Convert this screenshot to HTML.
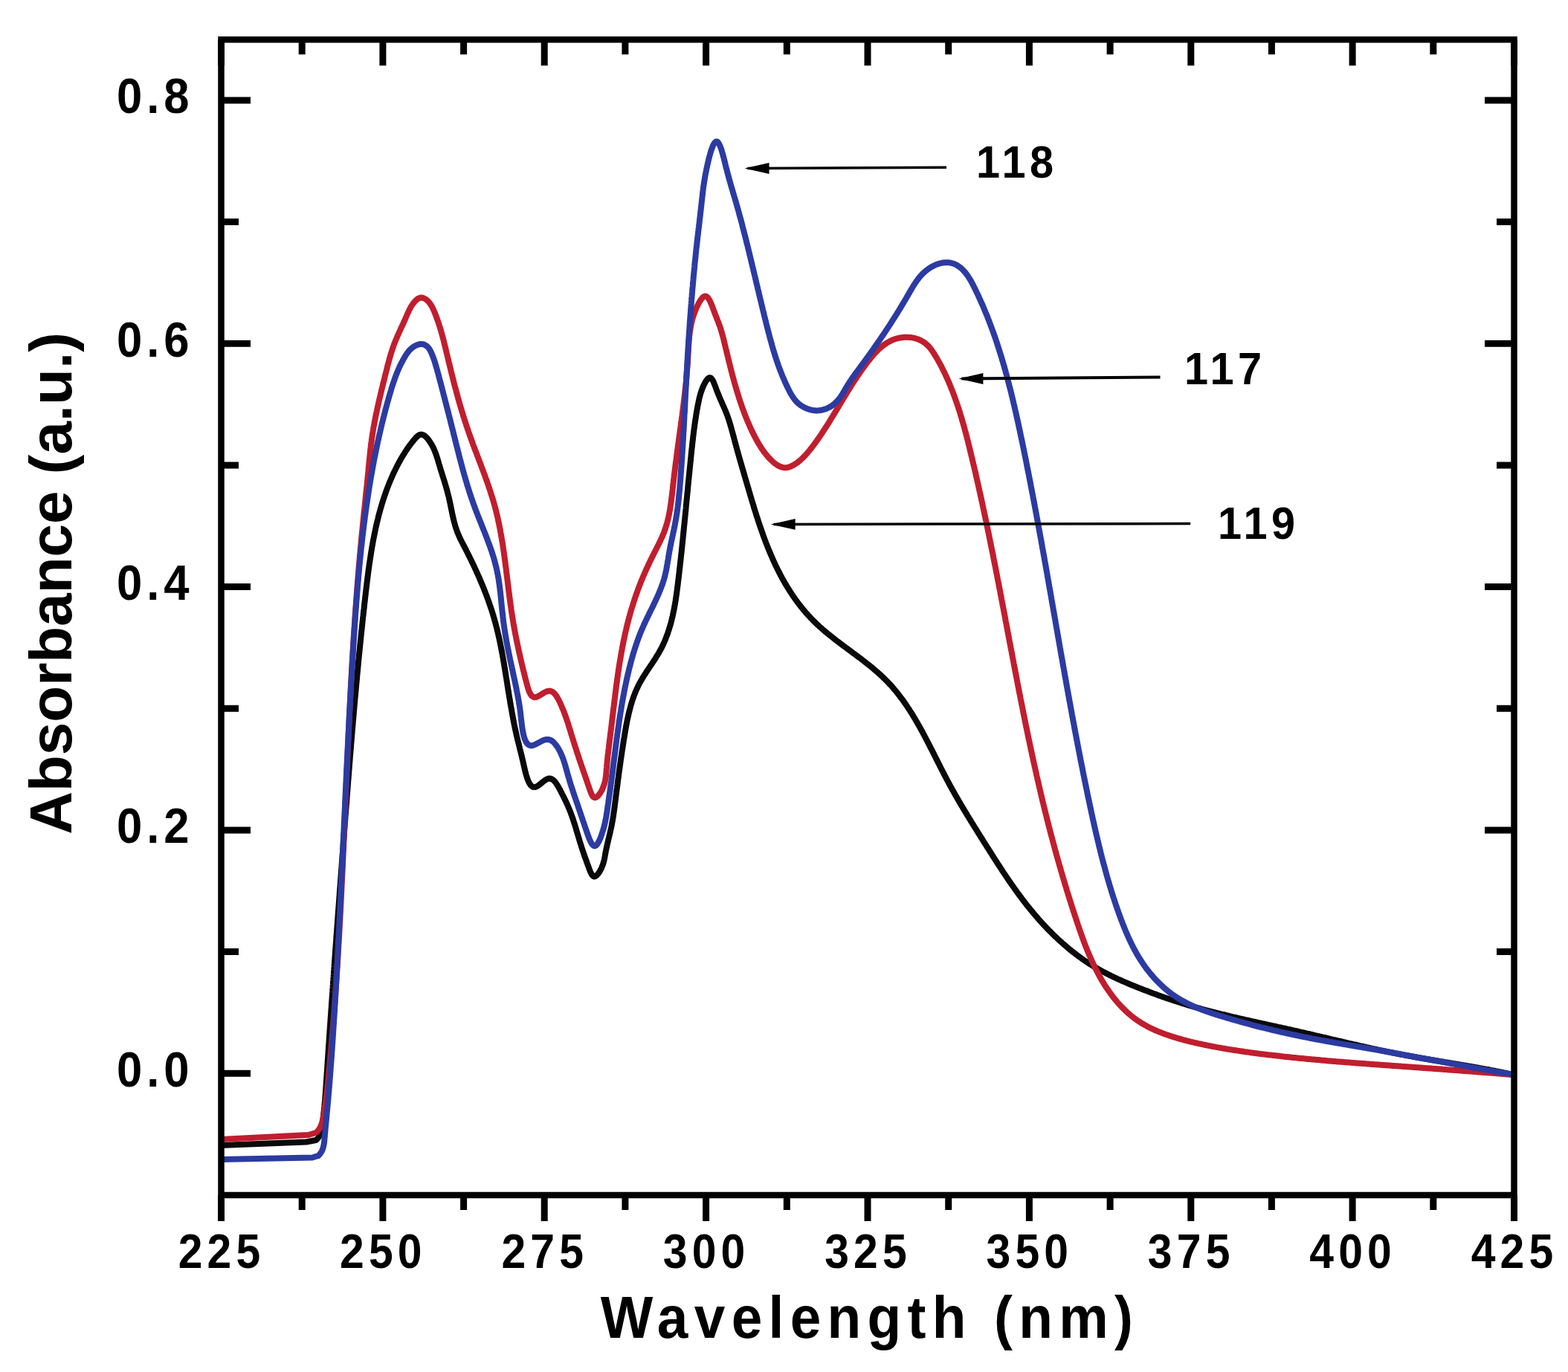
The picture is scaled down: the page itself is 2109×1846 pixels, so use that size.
<!DOCTYPE html>
<html><head><meta charset="utf-8"><title>Absorbance spectra</title>
<style>html,body{margin:0;padding:0;background:#fff;}body{width:2109px;height:1846px;overflow:hidden;}svg{display:block;}.t{font-family:"Liberation Sans",sans-serif;font-weight:bold;fill:#000;}</style></head><body>
<svg width="2109" height="1846" viewBox="0 0 2109 1846">
<rect width="2109" height="1846" fill="#fff"/>
<path d="M297.5 53.3V88.3 M297.5 1608.0V1643.0 M406.2 53.3V73.3 M406.2 1608.0V1628.0 M514.9 53.3V88.3 M514.9 1608.0V1643.0 M623.6 53.3V73.3 M623.6 1608.0V1628.0 M732.2 53.3V88.3 M732.2 1608.0V1643.0 M840.9 53.3V73.3 M840.9 1608.0V1628.0 M949.6 53.3V88.3 M949.6 1608.0V1643.0 M1058.3 53.3V73.3 M1058.3 1608.0V1628.0 M1167.0 53.3V88.3 M1167.0 1608.0V1643.0 M1275.7 53.3V73.3 M1275.7 1608.0V1628.0 M1384.4 53.3V88.3 M1384.4 1608.0V1643.0 M1493.1 53.3V73.3 M1493.1 1608.0V1628.0 M1601.8 53.3V88.3 M1601.8 1608.0V1643.0 M1710.4 53.3V73.3 M1710.4 1608.0V1628.0 M1819.1 53.3V88.3 M1819.1 1608.0V1643.0 M1927.8 53.3V73.3 M1927.8 1608.0V1628.0 M2036.5 53.3V88.3 M2036.5 1608.0V1643.0 M297.5 1444.3H337.0 M297.5 1280.6H321.0 M2036.5 1280.6H2013.0 M297.5 1116.9H337.0 M2036.5 1116.9H1997.0 M297.5 953.3H321.0 M2036.5 953.3H2013.0 M297.5 789.6H337.0 M2036.5 789.6H1997.0 M297.5 625.9H321.0 M2036.5 625.9H2013.0 M297.5 462.2H337.0 M2036.5 462.2H1997.0 M297.5 298.5H321.0 M2036.5 298.5H2013.0 M297.5 134.9H337.0 M2036.5 134.9H1997.0" stroke="#000" stroke-width="9.0" fill="none"/>
<g fill="none" stroke-linejoin="round" stroke-linecap="butt">
<path d="M297.5 1541.0L412.0 1536.5L425.0 1534.0L425.1 1534.0L426.6 1532.6L427.9 1531.1L429.0 1529.4L429.9 1527.7L430.7 1525.9L431.3 1524.1L431.8 1522.2L432.3 1520.2L432.6 1518.3L433.0 1516.3L433.3 1514.3L433.6 1512.3L433.8 1510.3L434.1 1508.3L434.4 1506.3L434.6 1504.3L434.9 1502.3L435.1 1500.3L435.3 1498.3L435.5 1496.3L435.8 1494.3L436.0 1492.3L436.2 1490.3L436.4 1488.3L436.5 1486.3L436.7 1484.3L436.9 1482.3L437.1 1480.3L437.2 1478.4L437.4 1476.4L437.5 1474.4L437.7 1472.4L437.9 1470.4L438.0 1468.4L438.1 1466.4L438.3 1464.4L438.4 1462.4L438.6 1460.4L438.7 1458.4L438.8 1456.4L439.0 1454.4L439.1 1452.4L439.2 1450.4L439.4 1448.4L439.5 1446.4L439.6 1444.5L439.8 1442.5L439.9 1440.5L440.0 1438.5L440.2 1436.5L440.3 1434.5L440.4 1432.5L440.6 1430.5L440.7 1428.5L440.8 1426.5L441.0 1424.5L441.1 1422.5L441.2 1420.5L441.4 1418.5L441.5 1416.5L441.6 1414.5L441.8 1412.5L441.9 1410.6L442.0 1408.6L442.2 1406.6L442.3 1404.6L442.5 1402.6L442.6 1400.6L442.7 1398.6L442.9 1396.6L443.0 1394.6L443.1 1392.6L443.3 1390.6L443.4 1388.6L443.5 1386.6L443.7 1384.6L443.8 1382.6L444.0 1380.6L444.1 1378.6L444.2 1376.6L444.4 1374.7L444.5 1372.7L444.6 1370.7L444.8 1368.7L444.9 1366.7L445.1 1364.7L445.2 1362.7L445.3 1360.7L445.5 1358.7L445.6 1356.7L445.8 1354.7L445.9 1352.7L446.0 1350.7L446.2 1348.7L446.3 1346.7L446.5 1344.7L446.6 1342.7L446.7 1340.7L446.9 1338.7L447.0 1336.8L447.2 1334.8L447.3 1332.8L447.4 1330.8L447.6 1328.8L447.7 1326.8L447.9 1324.8L448.0 1322.8L448.1 1320.8L448.3 1318.8L448.4 1316.8L448.6 1314.8L448.7 1312.8L448.9 1310.8L449.0 1308.8L449.1 1306.8L449.3 1304.8L449.4 1302.8L449.6 1300.8L449.7 1298.9L449.9 1296.9L450.0 1294.9L450.1 1292.9L450.3 1290.9L450.4 1288.9L450.6 1286.9L450.7 1284.9L450.9 1282.9L451.0 1280.9L451.1 1278.9L451.3 1276.9L451.4 1274.9L451.6 1272.9L451.7 1270.9L451.9 1268.9L452.0 1266.9L452.2 1264.9L452.3 1262.9L452.4 1261.0L452.6 1259.0L452.7 1257.0L452.9 1255.0L453.0 1253.0L453.2 1251.0L453.3 1249.0L453.5 1247.0L453.6 1245.0L453.8 1243.0L453.9 1241.0L454.0 1239.0L454.2 1237.0L454.3 1235.0L454.5 1233.0L454.6 1231.0L454.8 1229.0L454.9 1227.0L455.1 1225.0L455.2 1223.1L455.4 1221.1L455.5 1219.1L455.7 1217.1L455.8 1215.1L456.0 1213.1L456.1 1211.1L456.3 1209.1L456.4 1207.1L456.6 1205.1L456.7 1203.1L456.8 1201.1L457.0 1199.1L457.1 1197.1L457.3 1195.1L457.4 1193.1L457.6 1191.1L457.7 1189.1L457.9 1187.1L458.0 1185.2L458.2 1183.2L458.3 1181.2L458.5 1179.2L458.6 1177.2L458.8 1175.2L458.9 1173.2L459.1 1171.2L459.2 1169.2L459.4 1167.2L459.5 1165.2L459.7 1163.2L459.8 1161.2L460.0 1159.2L460.1 1157.2L460.3 1155.2L460.4 1153.2L460.6 1151.2L460.7 1149.2L460.9 1147.3L461.0 1145.3L461.2 1143.3L461.3 1141.3L461.5 1139.3L461.6 1137.3L461.8 1135.3L461.9 1133.3L462.1 1131.3L462.2 1129.3L462.4 1127.3L462.6 1125.3L462.7 1123.3L462.9 1121.3L463.0 1119.3L463.2 1117.3L463.3 1115.3L463.5 1113.3L463.6 1111.4L463.8 1109.4L463.9 1107.4L464.1 1105.4L464.2 1103.4L464.4 1101.4L464.5 1099.4L464.7 1097.4L464.8 1095.4L465.0 1093.4L465.1 1091.4L465.3 1089.4L465.5 1087.4L465.6 1085.4L465.8 1083.4L465.9 1081.4L466.1 1079.5L466.2 1077.5L466.4 1075.5L466.5 1073.5L466.7 1071.5L466.8 1069.5L467.0 1067.5L467.2 1065.5L467.3 1063.5L467.5 1061.5L467.6 1059.5L467.8 1057.5L467.9 1055.5L468.1 1053.5L468.2 1051.5L468.4 1049.5L468.6 1047.6L468.7 1045.6L468.9 1043.6L469.0 1041.6L469.2 1039.6L469.3 1037.6L469.5 1035.6L469.7 1033.6L469.8 1031.6L470.0 1029.6L470.1 1027.6L470.3 1025.6L470.5 1023.6L470.6 1021.6L470.8 1019.6L470.9 1017.7L471.1 1015.7L471.3 1013.7L471.4 1011.7L471.6 1009.7L471.8 1007.7L471.9 1005.7L472.1 1003.7L472.2 1001.7L472.4 999.7L472.6 997.7L472.7 995.7L472.9 993.7L473.1 991.7L473.2 989.8L473.4 987.8L473.6 985.8L473.7 983.8L473.9 981.8L474.1 979.8L474.2 977.8L474.4 975.8L474.6 973.8L474.7 971.8L474.9 969.8L475.1 967.8L475.3 965.8L475.4 963.9L475.6 961.9L475.8 959.9L475.9 957.9L476.1 955.9L476.3 953.9L476.5 951.9L476.6 949.9L476.8 947.9L477.0 945.9L477.2 943.9L477.3 941.9L477.5 939.9L477.7 938.0L477.9 936.0L478.1 934.0L478.2 932.0L478.4 930.0L478.6 928.0L478.8 926.0L479.0 924.0L479.1 922.0L479.3 920.0L479.5 918.0L479.7 916.1L479.9 914.1L480.1 912.1L480.2 910.1L480.4 908.1L480.6 906.1L480.8 904.1L481.0 902.1L481.2 900.1L481.4 898.1L481.6 896.1L481.8 894.2L481.9 892.2L482.1 890.2L482.3 888.2L482.5 886.2L482.7 884.2L482.9 882.2L483.1 880.2L483.3 878.2L483.5 876.2L483.7 874.2L483.9 872.3L484.1 870.3L484.3 868.3L484.5 866.3L484.7 864.3L484.9 862.3L485.1 860.3L485.3 858.3L485.5 856.3L485.7 854.4L485.9 852.4L486.1 850.4L486.3 848.4L486.6 846.4L486.8 844.4L487.0 842.4L487.2 840.4L487.4 838.4L487.6 836.4L487.8 834.5L488.0 832.5L488.2 830.5L488.5 828.5L488.7 826.5L488.9 824.5L489.1 822.5L489.3 820.5L489.6 818.5L489.8 816.6L490.0 814.6L490.2 812.6L490.4 810.6L490.7 808.6L490.9 806.6L491.1 804.6L491.3 802.6L491.6 800.7L491.8 798.7L492.0 796.7L492.3 794.7L492.5 792.7L492.7 790.7L493.0 788.7L493.2 786.7L493.4 784.8L493.7 782.8L493.9 780.8L494.2 778.8L494.4 776.8L494.7 774.8L494.9 772.8L495.2 770.9L495.4 768.9L495.7 766.9L496.0 764.9L496.3 762.9L496.5 761.0L496.8 759.0L497.1 757.0L497.4 755.0L497.7 753.0L498.0 751.1L498.3 749.1L498.6 747.1L498.9 745.1L499.2 743.2L499.5 741.2L499.9 739.2L500.2 737.2L500.5 735.3L500.9 733.3L501.2 731.3L501.6 729.4L501.9 727.4L502.3 725.5L502.7 723.5L503.1 721.5L503.5 719.6L503.9 717.6L504.3 715.7L504.7 713.7L505.1 711.7L505.5 709.8L506.0 707.8L506.4 705.9L506.8 703.9L507.3 702.0L507.8 700.1L508.3 698.1L508.7 696.2L509.2 694.2L509.7 692.3L510.2 690.4L510.8 688.4L511.3 686.5L511.8 684.6L512.4 682.7L513.0 680.7L513.5 678.8L514.1 676.9L514.7 675.0L515.3 673.1L515.9 671.2L516.5 669.3L517.2 667.4L517.8 665.5L518.5 663.6L519.1 661.7L519.8 659.8L520.5 657.9L521.2 656.1L521.9 654.2L522.7 652.3L523.4 650.5L524.2 648.6L524.9 646.8L525.7 645.0L526.5 643.1L527.3 641.3L528.1 639.5L528.9 637.7L529.8 635.8L530.6 634.0L531.5 632.3L532.4 630.5L533.3 628.7L534.2 626.9L535.1 625.1L536.0 623.4L537.0 621.6L538.0 619.9L538.9 618.2L539.9 616.4L540.9 614.7L542.0 613.0L543.0 611.3L544.1 609.6L545.1 607.9L546.2 606.3L547.3 604.6L548.5 602.9L549.6 601.3L550.8 599.6L552.1 598.0L553.3 596.3L554.6 594.7L555.9 593.0L557.3 591.4L558.7 589.7L560.2 588.2L561.6 586.8L563.1 585.7L564.7 584.9L566.2 584.6L567.8 584.7L569.4 585.2L570.9 586.1L572.4 587.3L573.9 588.8L575.4 590.5L576.7 592.2L578.0 594.1L579.2 596.0L580.4 597.8L581.4 599.7L582.4 601.5L583.3 603.4L584.1 605.3L584.9 607.2L585.6 609.0L586.3 610.9L587.0 612.8L587.6 614.7L588.2 616.5L588.8 618.4L589.3 620.3L589.9 622.2L590.4 624.1L591.0 626.0L591.6 627.9L592.1 629.8L592.7 631.7L593.3 633.6L593.9 635.5L594.5 637.3L595.1 639.3L595.7 641.2L596.3 643.1L596.9 645.0L597.5 646.9L598.1 648.8L598.6 650.7L599.2 652.6L599.8 654.6L600.3 656.5L600.9 658.4L601.4 660.4L601.9 662.3L602.4 664.2L602.9 666.2L603.4 668.1L603.9 670.1L604.3 672.1L604.7 674.0L605.2 676.0L605.6 678.0L606.0 679.9L606.4 681.9L606.8 683.9L607.2 685.8L607.6 687.8L608.0 689.8L608.4 691.7L608.8 693.7L609.3 695.7L609.7 697.6L610.2 699.5L610.6 701.5L611.2 703.4L611.7 705.3L612.2 707.2L612.8 709.1L613.4 711.0L614.1 712.9L614.7 714.8L615.4 716.6L616.2 718.4L617.0 720.3L617.8 722.1L618.6 723.9L619.5 725.7L620.4 727.5L621.3 729.3L622.2 731.0L623.1 732.8L624.1 734.6L625.0 736.4L625.9 738.2L626.8 739.9L627.7 741.7L628.6 743.5L629.5 745.3L630.4 747.1L631.3 748.9L632.2 750.7L633.1 752.5L634.0 754.3L634.8 756.1L635.7 757.9L636.6 759.7L637.4 761.5L638.3 763.3L639.1 765.2L640.0 767.0L640.8 768.8L641.6 770.6L642.4 772.4L643.2 774.3L644.1 776.1L644.9 777.9L645.6 779.8L646.4 781.6L647.2 783.5L648.0 785.3L648.8 787.1L649.5 789.0L650.3 790.8L651.0 792.7L651.7 794.6L652.5 796.4L653.2 798.3L653.9 800.1L654.6 802.0L655.3 803.9L656.0 805.8L656.7 807.6L657.3 809.5L658.0 811.4L658.6 813.3L659.3 815.2L659.9 817.1L660.6 819.0L661.2 820.8L661.8 822.7L662.4 824.7L663.0 826.6L663.5 828.5L664.1 830.4L664.7 832.3L665.2 834.2L665.8 836.1L666.3 838.1L666.8 840.0L667.3 841.9L667.8 843.9L668.3 845.8L668.8 847.7L669.3 849.7L669.7 851.6L670.2 853.6L670.6 855.5L671.1 857.5L671.5 859.4L671.9 861.4L672.3 863.3L672.7 865.3L673.1 867.3L673.5 869.2L673.9 871.2L674.3 873.2L674.7 875.1L675.1 877.1L675.4 879.1L675.8 881.0L676.1 883.0L676.5 885.0L676.8 887.0L677.2 888.9L677.5 890.9L677.8 892.9L678.2 894.9L678.5 896.8L678.8 898.8L679.2 900.8L679.5 902.8L679.8 904.8L680.1 906.7L680.4 908.7L680.7 910.7L681.1 912.7L681.4 914.6L681.7 916.6L682.0 918.6L682.3 920.6L682.6 922.5L682.9 924.5L683.2 926.5L683.5 928.4L683.9 930.4L684.2 932.4L684.5 934.3L684.8 936.3L685.1 938.3L685.5 940.2L685.8 942.2L686.1 944.2L686.4 946.1L686.8 948.1L687.1 950.1L687.5 952.0L687.8 954.0L688.2 956.0L688.5 958.0L688.9 960.0L689.2 962.0L689.6 964.0L690.0 966.0L690.4 968.0L690.7 970.0L691.1 972.0L691.5 974.0L691.9 976.0L692.3 977.9L692.7 979.9L693.1 981.8L693.6 983.7L694.0 985.6L694.4 987.5L694.8 989.4L695.2 991.2L695.7 993.0L696.1 994.8L696.5 996.6L697.0 998.3L697.4 1000.1L697.9 1001.9L698.3 1003.7L698.8 1005.5L699.2 1007.4L699.7 1009.3L700.2 1011.2L700.7 1013.2L701.2 1015.2L701.7 1017.3L702.2 1019.5L702.7 1021.8L703.3 1024.1L703.8 1026.5L704.4 1029.0L705.0 1031.6L705.6 1034.2L706.2 1036.8L706.8 1039.4L707.5 1041.9L708.3 1044.4L709.0 1046.8L709.8 1049.0L710.7 1051.1L711.6 1053.0L712.6 1054.7L713.6 1056.2L714.7 1057.4L715.9 1058.3L717.1 1058.9L718.4 1059.1L719.8 1059.0L721.3 1058.5L722.9 1057.7L724.5 1056.6L726.2 1055.3L727.9 1053.9L729.7 1052.4L731.4 1051.0L733.2 1049.8L734.9 1048.7L736.7 1047.9L738.3 1047.5L739.9 1047.5L741.5 1047.9L743.0 1048.7L744.5 1049.8L745.9 1051.2L747.2 1052.8L748.5 1054.7L749.8 1056.6L751.0 1058.7L752.2 1060.8L753.3 1062.9L754.4 1065.0L755.4 1067.0L756.4 1069.0L757.4 1070.9L758.4 1072.8L759.3 1074.6L760.1 1076.4L761.0 1078.2L761.8 1079.9L762.6 1081.7L763.4 1083.4L764.2 1085.2L764.9 1086.9L765.6 1088.6L766.3 1090.4L767.0 1092.1L767.7 1093.9L768.4 1095.8L769.1 1097.6L769.7 1099.5L770.4 1101.3L771.0 1103.2L771.6 1105.1L772.2 1107.1L772.9 1109.0L773.5 1110.9L774.1 1112.9L774.7 1114.8L775.2 1116.8L775.8 1118.7L776.4 1120.6L777.0 1122.6L777.6 1124.5L778.1 1126.4L778.7 1128.3L779.3 1130.2L779.8 1132.1L780.4 1133.9L781.0 1135.8L781.6 1137.6L782.1 1139.4L782.7 1141.2L783.3 1143.0L783.9 1144.8L784.5 1146.6L785.1 1148.5L785.8 1150.3L786.4 1152.2L787.1 1154.0L787.8 1156.0L788.5 1157.9L789.2 1159.9L789.9 1161.9L790.7 1164.0L791.5 1166.2L792.3 1168.4L793.1 1170.6L794.0 1172.8L795.0 1174.8L795.9 1176.6L797.0 1178.0L798.1 1179.0L799.3 1179.4L800.6 1179.1L801.9 1178.3L803.3 1177.1L804.6 1175.5L805.9 1173.7L807.1 1171.7L808.2 1169.6L809.2 1167.6L810.0 1165.6L810.8 1163.6L811.4 1161.6L812.0 1159.6L812.5 1157.6L812.9 1155.7L813.3 1153.7L813.7 1151.8L814.0 1149.9L814.4 1147.9L814.7 1146.0L815.1 1144.1L815.5 1142.1L815.9 1140.2L816.3 1138.3L816.8 1136.3L817.2 1134.4L817.7 1132.5L818.1 1130.5L818.6 1128.6L819.1 1126.6L819.5 1124.7L820.0 1122.7L820.5 1120.8L820.9 1118.8L821.3 1116.9L821.8 1114.9L822.2 1113.0L822.6 1111.0L823.0 1109.0L823.3 1107.1L823.7 1105.1L824.0 1103.1L824.4 1101.2L824.7 1099.2L825.0 1097.2L825.3 1095.2L825.6 1093.2L825.9 1091.2L826.1 1089.3L826.4 1087.3L826.7 1085.3L826.9 1083.3L827.2 1081.3L827.4 1079.3L827.7 1077.3L827.9 1075.3L828.2 1073.4L828.4 1071.4L828.7 1069.4L828.9 1067.4L829.2 1065.4L829.4 1063.4L829.7 1061.5L830.0 1059.5L830.2 1057.5L830.5 1055.5L830.7 1053.5L831.0 1051.6L831.2 1049.6L831.5 1047.6L831.8 1045.6L832.0 1043.6L832.3 1041.7L832.5 1039.7L832.8 1037.7L833.1 1035.7L833.4 1033.8L833.6 1031.8L833.9 1029.8L834.2 1027.8L834.5 1025.8L834.7 1023.9L835.0 1021.9L835.3 1019.9L835.6 1017.9L835.9 1016.0L836.2 1014.0L836.5 1012.0L836.8 1010.0L837.1 1008.1L837.4 1006.1L837.7 1004.1L838.0 1002.1L838.3 1000.2L838.6 998.2L838.9 996.2L839.2 994.2L839.6 992.2L839.9 990.3L840.2 988.3L840.6 986.3L840.9 984.3L841.2 982.3L841.6 980.4L841.9 978.4L842.3 976.4L842.7 974.4L843.0 972.4L843.4 970.5L843.8 968.5L844.2 966.5L844.7 964.6L845.1 962.6L845.5 960.7L846.0 958.7L846.5 956.8L847.0 954.8L847.5 952.9L848.0 951.0L848.5 949.1L849.1 947.1L849.7 945.2L850.2 943.3L850.9 941.4L851.5 939.6L852.2 937.7L852.8 935.8L853.6 934.0L854.3 932.1L855.0 930.3L855.8 928.5L856.6 926.7L857.5 924.9L858.3 923.1L859.2 921.3L860.1 919.5L861.1 917.8L862.1 916.0L863.1 914.3L864.1 912.6L865.1 910.9L866.2 909.2L867.3 907.5L868.4 905.8L869.4 904.1L870.6 902.4L871.7 900.7L872.8 899.1L873.9 897.4L875.0 895.7L876.2 894.0L877.3 892.4L878.4 890.7L879.5 889.0L880.6 887.3L881.7 885.6L882.7 883.9L883.8 882.2L884.8 880.5L885.9 878.8L886.8 877.1L887.8 875.3L888.8 873.6L889.7 871.8L890.6 870.1L891.4 868.3L892.3 866.5L893.1 864.7L893.9 862.9L894.7 861.0L895.4 859.2L896.1 857.4L896.8 855.5L897.5 853.7L898.2 851.8L898.8 849.9L899.4 848.1L900.0 846.2L900.6 844.3L901.2 842.4L901.7 840.5L902.3 838.6L902.8 836.6L903.3 834.7L903.7 832.8L904.2 830.8L904.7 828.9L905.1 826.9L905.5 825.0L905.9 823.0L906.3 821.1L906.7 819.1L907.1 817.1L907.4 815.1L907.8 813.2L908.1 811.2L908.5 809.2L908.8 807.2L909.1 805.2L909.4 803.2L909.7 801.2L910.0 799.2L910.2 797.2L910.5 795.2L910.8 793.2L911.0 791.2L911.3 789.2L911.6 787.2L911.8 785.2L912.0 783.2L912.3 781.2L912.5 779.2L912.8 777.2L913.0 775.2L913.2 773.2L913.5 771.2L913.7 769.2L913.9 767.2L914.1 765.2L914.4 763.2L914.6 761.2L914.8 759.2L915.0 757.2L915.3 755.2L915.5 753.2L915.7 751.2L915.9 749.3L916.1 747.3L916.3 745.3L916.6 743.3L916.8 741.3L917.0 739.3L917.2 737.3L917.4 735.3L917.6 733.3L917.8 731.4L918.0 729.4L918.2 727.4L918.4 725.4L918.6 723.4L918.8 721.4L919.0 719.4L919.2 717.5L919.4 715.5L919.6 713.5L919.8 711.5L920.0 709.5L920.2 707.5L920.4 705.6L920.6 703.6L920.8 701.6L921.0 699.6L921.2 697.6L921.4 695.6L921.6 693.7L921.8 691.7L922.0 689.7L922.2 687.7L922.4 685.7L922.6 683.8L922.7 681.8L922.9 679.8L923.1 677.8L923.3 675.8L923.5 673.8L923.7 671.9L923.9 669.9L924.1 667.9L924.3 665.9L924.5 663.9L924.7 661.9L924.9 660.0L925.1 658.0L925.2 656.0L925.4 654.0L925.6 652.0L925.8 650.0L926.0 648.1L926.2 646.1L926.4 644.1L926.6 642.1L926.8 640.1L927.0 638.1L927.2 636.1L927.4 634.1L927.6 632.1L927.8 630.2L928.0 628.2L928.2 626.2L928.4 624.2L928.6 622.2L928.8 620.2L929.0 618.2L929.2 616.2L929.4 614.2L929.6 612.2L929.8 610.2L930.0 608.2L930.2 606.2L930.4 604.2L930.7 602.2L930.9 600.2L931.1 598.2L931.3 596.2L931.5 594.2L931.8 592.2L932.0 590.2L932.2 588.2L932.5 586.2L932.7 584.3L932.9 582.3L933.2 580.3L933.4 578.3L933.7 576.3L934.0 574.3L934.2 572.3L934.5 570.4L934.8 568.4L935.1 566.4L935.4 564.4L935.7 562.5L936.0 560.5L936.3 558.6L936.6 556.6L937.0 554.6L937.3 552.7L937.6 550.8L938.0 548.8L938.3 546.9L938.7 544.9L939.1 543.0L939.5 541.1L939.9 539.2L940.3 537.3L940.7 535.3L941.2 533.4L941.7 531.5L942.3 529.5L942.9 527.6L943.6 525.6L944.3 523.6L945.1 521.5L946.0 519.5L947.0 517.4L948.1 515.3L949.2 513.3L950.4 511.5L951.5 510.1L952.7 508.9L953.9 508.2L955.0 508.1L956.0 508.5L957.0 509.4L958.0 510.7L958.9 512.3L959.9 514.3L960.7 516.4L961.6 518.6L962.5 520.9L963.3 523.2L964.1 525.5L965.0 527.6L965.8 529.7L966.7 531.8L967.5 533.8L968.3 535.7L969.1 537.6L970.0 539.5L970.8 541.3L971.5 543.1L972.3 544.9L973.1 546.6L973.9 548.4L974.6 550.1L975.4 551.9L976.1 553.6L976.8 555.4L977.5 557.2L978.2 558.9L978.8 560.8L979.5 562.6L980.1 564.4L980.7 566.3L981.3 568.2L981.9 570.1L982.4 572.0L983.0 574.0L983.6 575.9L984.1 577.9L984.6 579.8L985.2 581.8L985.7 583.8L986.2 585.7L986.8 587.7L987.3 589.7L987.8 591.7L988.3 593.6L988.8 595.6L989.4 597.5L989.9 599.5L990.4 601.4L991.0 603.4L991.5 605.3L992.0 607.3L992.6 609.2L993.1 611.1L993.7 613.0L994.2 614.9L994.7 616.9L995.3 618.8L995.8 620.7L996.4 622.6L996.9 624.5L997.5 626.4L998.0 628.3L998.6 630.2L999.2 632.1L999.7 634.0L1000.3 635.9L1000.8 637.8L1001.4 639.7L1001.9 641.6L1002.5 643.5L1003.0 645.4L1003.6 647.3L1004.2 649.2L1004.7 651.1L1005.3 653.0L1005.8 654.9L1006.4 656.8L1007.0 658.7L1007.5 660.7L1008.1 662.6L1008.7 664.5L1009.2 666.4L1009.8 668.3L1010.4 670.2L1010.9 672.2L1011.5 674.1L1012.1 676.0L1012.7 677.9L1013.3 679.8L1013.8 681.8L1014.4 683.7L1015.0 685.6L1015.6 687.5L1016.2 689.4L1016.8 691.3L1017.4 693.3L1018.0 695.2L1018.7 697.1L1019.3 699.0L1019.9 700.9L1020.5 702.8L1021.2 704.7L1021.8 706.6L1022.4 708.5L1023.1 710.4L1023.8 712.3L1024.4 714.2L1025.1 716.1L1025.8 718.0L1026.4 719.9L1027.1 721.8L1027.8 723.7L1028.5 725.6L1029.2 727.4L1029.9 729.3L1030.6 731.2L1031.4 733.1L1032.1 734.9L1032.8 736.8L1033.6 738.7L1034.4 740.5L1035.1 742.4L1035.9 744.2L1036.7 746.1L1037.5 747.9L1038.3 749.7L1039.1 751.6L1039.9 753.4L1040.7 755.2L1041.6 757.0L1042.4 758.9L1043.2 760.7L1044.1 762.5L1045.0 764.3L1045.9 766.1L1046.8 767.8L1047.7 769.6L1048.6 771.4L1049.5 773.2L1050.4 774.9L1051.4 776.7L1052.3 778.5L1053.3 780.2L1054.3 781.9L1055.3 783.7L1056.3 785.4L1057.3 787.1L1058.3 788.8L1059.3 790.5L1060.4 792.2L1061.5 793.9L1062.5 795.6L1063.6 797.2L1064.7 798.9L1065.8 800.6L1066.9 802.2L1068.0 803.8L1069.2 805.5L1070.3 807.1L1071.5 808.7L1072.7 810.3L1073.9 811.9L1075.1 813.5L1076.3 815.0L1077.5 816.6L1078.8 818.1L1080.0 819.7L1081.3 821.2L1082.6 822.7L1083.8 824.2L1085.2 825.7L1086.5 827.2L1087.8 828.6L1089.2 830.1L1090.5 831.6L1091.9 833.0L1093.3 834.4L1094.7 835.8L1096.1 837.2L1097.5 838.6L1099.0 840.0L1100.4 841.3L1101.9 842.7L1103.4 844.0L1104.9 845.3L1106.4 846.7L1107.9 848.0L1109.4 849.3L1111.0 850.6L1112.5 851.9L1114.1 853.1L1115.6 854.4L1117.2 855.7L1118.8 856.9L1120.4 858.2L1121.9 859.4L1123.5 860.7L1125.1 861.9L1126.7 863.1L1128.4 864.3L1130.0 865.6L1131.6 866.8L1133.2 868.0L1134.8 869.2L1136.5 870.4L1138.1 871.6L1139.7 872.8L1141.3 874.0L1143.0 875.2L1144.6 876.5L1146.2 877.7L1147.8 878.9L1149.5 880.1L1151.1 881.3L1152.7 882.5L1154.3 883.7L1155.9 884.9L1157.6 886.1L1159.2 887.4L1160.8 888.6L1162.4 889.8L1164.0 891.1L1165.5 892.3L1167.1 893.6L1168.7 894.8L1170.2 896.1L1171.8 897.3L1173.3 898.6L1174.9 899.9L1176.4 901.2L1177.9 902.5L1179.4 903.8L1180.9 905.1L1182.4 906.4L1183.9 907.7L1185.3 909.1L1186.8 910.4L1188.2 911.8L1189.6 913.2L1191.0 914.6L1192.4 916.0L1193.8 917.4L1195.2 918.8L1196.5 920.3L1197.9 921.7L1199.2 923.2L1200.5 924.7L1201.8 926.2L1203.0 927.7L1204.3 929.2L1205.6 930.7L1206.8 932.2L1208.0 933.8L1209.2 935.3L1210.4 936.9L1211.6 938.5L1212.8 940.0L1214.0 941.6L1215.1 943.2L1216.3 944.8L1217.4 946.5L1218.5 948.1L1219.6 949.7L1220.7 951.4L1221.8 953.0L1222.9 954.7L1224.0 956.4L1225.1 958.0L1226.1 959.7L1227.2 961.4L1228.2 963.1L1229.2 964.8L1230.3 966.5L1231.3 968.3L1232.3 970.0L1233.3 971.7L1234.3 973.4L1235.3 975.2L1236.3 976.9L1237.3 978.7L1238.2 980.4L1239.2 982.2L1240.2 984.0L1241.1 985.7L1242.1 987.5L1243.0 989.3L1244.0 991.1L1244.9 992.8L1245.8 994.6L1246.8 996.4L1247.7 998.2L1248.6 1000.0L1249.6 1001.8L1250.5 1003.6L1251.4 1005.4L1252.3 1007.2L1253.2 1009.0L1254.2 1010.8L1255.1 1012.6L1256.0 1014.4L1256.9 1016.2L1257.8 1018.0L1258.7 1019.8L1259.6 1021.6L1260.5 1023.4L1261.4 1025.2L1262.4 1027.0L1263.3 1028.8L1264.2 1030.7L1265.1 1032.5L1266.0 1034.3L1266.9 1036.1L1267.9 1037.8L1268.8 1039.6L1269.7 1041.4L1270.6 1043.2L1271.6 1045.0L1272.5 1046.8L1273.4 1048.6L1274.4 1050.4L1275.3 1052.1L1276.3 1053.9L1277.2 1055.7L1278.2 1057.4L1279.2 1059.2L1280.1 1060.9L1281.1 1062.7L1282.1 1064.4L1283.1 1066.2L1284.0 1067.9L1285.0 1069.7L1286.0 1071.4L1287.0 1073.1L1288.0 1074.9L1289.0 1076.6L1290.0 1078.3L1291.0 1080.0L1292.0 1081.8L1293.0 1083.5L1294.1 1085.2L1295.1 1086.9L1296.1 1088.6L1297.1 1090.3L1298.1 1092.0L1299.2 1093.7L1300.2 1095.4L1301.2 1097.1L1302.3 1098.8L1303.3 1100.5L1304.3 1102.2L1305.4 1103.9L1306.4 1105.6L1307.5 1107.3L1308.5 1109.0L1309.6 1110.7L1310.6 1112.4L1311.7 1114.0L1312.7 1115.7L1313.8 1117.4L1314.8 1119.1L1315.9 1120.8L1316.9 1122.5L1318.0 1124.2L1319.0 1125.8L1320.1 1127.5L1321.2 1129.2L1322.2 1130.9L1323.3 1132.6L1324.3 1134.3L1325.4 1135.9L1326.5 1137.6L1327.5 1139.3L1328.6 1141.0L1329.7 1142.7L1330.7 1144.3L1331.8 1146.0L1332.8 1147.7L1333.9 1149.4L1335.0 1151.1L1336.0 1152.8L1337.1 1154.4L1338.2 1156.1L1339.3 1157.8L1340.3 1159.5L1341.4 1161.1L1342.5 1162.8L1343.6 1164.5L1344.7 1166.2L1345.8 1167.8L1346.9 1169.5L1347.9 1171.2L1349.0 1172.8L1350.1 1174.5L1351.3 1176.2L1352.4 1177.8L1353.5 1179.5L1354.6 1181.1L1355.7 1182.8L1356.8 1184.4L1358.0 1186.1L1359.1 1187.7L1360.2 1189.4L1361.4 1191.0L1362.5 1192.6L1363.7 1194.3L1364.8 1195.9L1366.0 1197.5L1367.2 1199.2L1368.3 1200.8L1369.5 1202.4L1370.7 1204.0L1371.9 1205.6L1373.1 1207.2L1374.3 1208.8L1375.5 1210.4L1376.7 1212.0L1377.9 1213.6L1379.2 1215.2L1380.4 1216.8L1381.6 1218.4L1382.9 1219.9L1384.2 1221.5L1385.4 1223.1L1386.7 1224.6L1388.0 1226.2L1389.3 1227.7L1390.6 1229.3L1391.9 1230.8L1393.2 1232.3L1394.5 1233.9L1395.8 1235.4L1397.1 1236.9L1398.5 1238.4L1399.8 1239.9L1401.2 1241.4L1402.5 1242.9L1403.9 1244.4L1405.3 1245.8L1406.6 1247.3L1408.0 1248.8L1409.4 1250.2L1410.8 1251.7L1412.3 1253.1L1413.7 1254.5L1415.1 1255.9L1416.5 1257.4L1418.0 1258.8L1419.4 1260.2L1420.9 1261.5L1422.3 1262.9L1423.8 1264.3L1425.3 1265.7L1426.8 1267.0L1428.3 1268.3L1429.8 1269.7L1431.3 1271.0L1432.8 1272.3L1434.3 1273.6L1435.8 1274.9L1437.4 1276.2L1438.9 1277.5L1440.5 1278.7L1442.0 1280.0L1443.6 1281.2L1445.2 1282.4L1446.8 1283.7L1448.4 1284.9L1450.0 1286.1L1451.6 1287.2L1453.2 1288.4L1454.8 1289.6L1456.4 1290.7L1458.1 1291.9L1459.7 1293.0L1461.4 1294.1L1463.0 1295.2L1464.7 1296.3L1466.4 1297.4L1468.1 1298.4L1469.7 1299.5L1471.4 1300.5L1473.1 1301.5L1474.9 1302.5L1476.6 1303.5L1478.3 1304.5L1480.0 1305.5L1481.8 1306.4L1483.5 1307.4L1485.3 1308.3L1487.0 1309.2L1488.8 1310.1L1490.6 1311.0L1492.4 1311.9L1494.2 1312.8L1495.9 1313.7L1497.7 1314.5L1499.5 1315.4L1501.3 1316.2L1503.2 1317.1L1505.0 1317.9L1506.8 1318.7L1508.6 1319.5L1510.4 1320.3L1512.3 1321.1L1514.1 1321.9L1515.9 1322.7L1517.8 1323.5L1519.6 1324.2L1521.5 1325.0L1523.3 1325.8L1525.2 1326.5L1527.0 1327.3L1528.9 1328.0L1530.7 1328.8L1532.6 1329.5L1534.5 1330.2L1536.3 1331.0L1538.2 1331.7L1540.1 1332.4L1541.9 1333.1L1543.8 1333.8L1545.7 1334.6L1547.5 1335.3L1549.4 1336.0L1551.3 1336.7L1553.2 1337.3L1555.1 1338.0L1556.9 1338.7L1558.8 1339.4L1560.7 1340.1L1562.6 1340.7L1564.5 1341.4L1566.4 1342.1L1568.3 1342.7L1570.2 1343.4L1572.1 1344.0L1574.0 1344.7L1575.9 1345.3L1577.8 1345.9L1579.7 1346.6L1581.6 1347.2L1583.5 1347.8L1585.4 1348.4L1587.3 1349.0L1589.2 1349.6L1591.1 1350.2L1593.0 1350.8L1594.9 1351.4L1596.9 1352.0L1598.8 1352.6L1600.7 1353.1L1602.6 1353.7L1604.5 1354.3L1606.5 1354.8L1608.4 1355.4L1610.3 1355.9L1612.2 1356.5L1614.2 1357.0L1616.1 1357.5L1618.0 1358.1L1619.9 1358.6L1621.9 1359.1L1623.8 1359.6L1625.7 1360.1L1627.7 1360.6L1629.6 1361.1L1631.5 1361.6L1633.5 1362.1L1635.4 1362.6L1637.3 1363.1L1639.3 1363.6L1641.2 1364.1L1643.2 1364.6L1645.1 1365.0L1647.1 1365.5L1649.0 1366.0L1650.9 1366.4L1652.9 1366.9L1654.8 1367.4L1656.8 1367.8L1658.7 1368.3L1660.7 1368.7L1662.6 1369.2L1664.6 1369.6L1666.5 1370.1L1668.5 1370.5L1670.4 1371.0L1672.4 1371.4L1674.3 1371.9L1676.3 1372.3L1678.2 1372.7L1680.2 1373.2L1682.1 1373.6L1684.1 1374.1L1686.0 1374.5L1688.0 1374.9L1689.9 1375.3L1691.9 1375.8L1693.8 1376.2L1695.8 1376.6L1697.7 1377.1L1699.7 1377.5L1701.6 1377.9L1703.6 1378.3L1705.5 1378.8L1707.5 1379.2L1709.4 1379.6L1711.4 1380.1L1713.3 1380.5L1715.3 1380.9L1717.2 1381.3L1719.2 1381.8L1721.2 1382.2L1723.1 1382.6L1725.1 1383.1L1727.0 1383.5L1729.0 1383.9L1730.9 1384.4L1732.9 1384.8L1734.8 1385.2L1736.8 1385.7L1738.7 1386.1L1740.7 1386.6L1742.6 1387.0L1744.6 1387.4L1746.5 1387.9L1748.5 1388.3L1750.4 1388.8L1752.4 1389.2L1754.3 1389.7L1756.2 1390.1L1758.2 1390.6L1760.1 1391.0L1762.1 1391.5L1764.0 1391.9L1766.0 1392.4L1767.9 1392.9L1769.9 1393.3L1771.8 1393.8L1773.8 1394.2L1775.7 1394.7L1777.7 1395.1L1779.6 1395.6L1781.5 1396.0L1783.5 1396.5L1785.4 1397.0L1787.4 1397.4L1789.3 1397.9L1791.3 1398.3L1793.2 1398.8L1795.2 1399.2L1797.1 1399.7L1799.1 1400.1L1801.0 1400.6L1802.9 1401.0L1804.9 1401.5L1806.8 1402.0L1808.8 1402.4L1810.7 1402.9L1812.7 1403.3L1814.6 1403.8L1816.6 1404.2L1818.5 1404.6L1820.5 1405.1L1822.4 1405.5L1824.4 1406.0L1826.3 1406.4L1828.3 1406.9L1830.2 1407.3L1832.2 1407.7L1834.1 1408.2L1836.1 1408.6L1838.0 1409.1L1840.0 1409.5L1841.9 1409.9L1843.9 1410.3L1845.8 1410.8L1847.8 1411.2L1849.7 1411.6L1851.7 1412.0L1853.6 1412.5L1855.6 1412.9L1857.5 1413.3L1859.5 1413.7L1861.4 1414.1L1863.4 1414.5L1865.4 1414.9L1867.3 1415.3L1869.3 1415.7L1871.2 1416.1L1873.2 1416.5L1875.2 1416.9L1877.1 1417.3L1879.1 1417.7L1881.0 1418.1L1883.0 1418.5L1885.0 1418.8L1886.9 1419.2L1888.9 1419.6L1890.9 1420.0L1892.8 1420.3L1894.8 1420.7L1896.8 1421.1L1898.7 1421.4L1900.7 1421.8L1902.7 1422.1L1904.6 1422.5L1906.6 1422.8L1908.6 1423.2L1910.5 1423.5L1912.5 1423.9L1914.5 1424.2L1916.4 1424.5L1918.4 1424.9L1920.4 1425.2L1922.4 1425.5L1924.3 1425.9L1926.3 1426.2L1928.3 1426.5L1930.3 1426.9L1932.2 1427.2L1934.2 1427.5L1936.2 1427.9L1938.2 1428.2L1940.1 1428.5L1942.1 1428.8L1944.1 1429.2L1946.1 1429.5L1948.0 1429.8L1950.0 1430.1L1952.0 1430.5L1954.0 1430.8L1955.9 1431.1L1957.9 1431.4L1959.9 1431.8L1961.9 1432.1L1963.8 1432.4L1965.8 1432.8L1967.8 1433.1L1969.8 1433.4L1971.7 1433.8L1973.7 1434.1L1975.7 1434.4L1977.6 1434.8L1979.6 1435.1L1981.6 1435.5L1983.6 1435.8L1985.5 1436.2L1987.5 1436.5L1989.5 1436.9L1991.4 1437.2L1993.4 1437.6L1995.4 1437.9L1997.3 1438.3L1999.3 1438.7L2001.3 1439.0L2003.2 1439.4L2005.2 1439.8L2007.2 1440.2L2009.1 1440.5L2011.1 1440.9L2013.0 1441.3L2015.0 1441.7L2017.0 1442.1L2018.9 1442.5L2020.9 1442.9L2022.8 1443.3L2024.8 1443.7L2026.7 1444.2L2028.7 1444.6L2030.6 1445.0L2032.6 1445.4L2034.5 1445.9L2036.5 1446.3" stroke="#0a0a0a" stroke-width="8.0"/>
<path d="M297.5 1533.0L415.0 1527.0L425.0 1524.0L425.0 1524.0L426.5 1522.5L427.9 1521.0L429.1 1519.4L430.1 1517.7L431.0 1516.0L431.8 1514.2L432.5 1512.3L433.2 1510.4L433.7 1508.5L434.2 1506.6L434.6 1504.6L435.0 1502.7L435.3 1500.7L435.7 1498.7L436.0 1496.7L436.3 1494.7L436.6 1492.7L436.9 1490.8L437.2 1488.8L437.5 1486.8L437.8 1484.8L438.1 1482.8L438.4 1480.8L438.6 1478.9L438.9 1476.9L439.1 1474.9L439.4 1472.9L439.6 1470.9L439.8 1468.9L440.1 1466.9L440.3 1464.9L440.5 1462.9L440.7 1461.0L440.9 1459.0L441.2 1457.0L441.4 1455.0L441.6 1453.0L441.8 1451.0L442.0 1449.0L442.1 1447.0L442.3 1445.0L442.5 1443.1L442.7 1441.1L442.9 1439.1L443.1 1437.1L443.3 1435.1L443.5 1433.1L443.6 1431.1L443.8 1429.1L444.0 1427.1L444.2 1425.1L444.4 1423.2L444.5 1421.2L444.7 1419.2L444.9 1417.2L445.1 1415.2L445.3 1413.2L445.4 1411.2L445.6 1409.2L445.8 1407.2L445.9 1405.2L446.1 1403.2L446.3 1401.3L446.4 1399.3L446.6 1397.3L446.8 1395.3L446.9 1393.3L447.1 1391.3L447.3 1389.3L447.4 1387.3L447.6 1385.3L447.7 1383.3L447.9 1381.3L448.1 1379.3L448.2 1377.3L448.4 1375.4L448.5 1373.4L448.7 1371.4L448.8 1369.4L449.0 1367.4L449.1 1365.4L449.3 1363.4L449.4 1361.4L449.6 1359.4L449.7 1357.4L449.9 1355.4L450.0 1353.4L450.2 1351.4L450.3 1349.4L450.5 1347.4L450.6 1345.5L450.7 1343.5L450.9 1341.5L451.0 1339.5L451.2 1337.5L451.3 1335.5L451.4 1333.5L451.6 1331.5L451.7 1329.5L451.9 1327.5L452.0 1325.5L452.1 1323.5L452.3 1321.5L452.4 1319.5L452.5 1317.5L452.7 1315.5L452.8 1313.5L452.9 1311.5L453.0 1309.6L453.2 1307.6L453.3 1305.6L453.4 1303.6L453.6 1301.6L453.7 1299.6L453.8 1297.6L453.9 1295.6L454.1 1293.6L454.2 1291.6L454.3 1289.6L454.4 1287.6L454.5 1285.6L454.7 1283.6L454.8 1281.6L454.9 1279.6L455.0 1277.6L455.1 1275.6L455.3 1273.6L455.4 1271.6L455.5 1269.6L455.6 1267.6L455.7 1265.7L455.8 1263.7L455.9 1261.7L456.1 1259.7L456.2 1257.7L456.3 1255.7L456.4 1253.7L456.5 1251.7L456.6 1249.7L456.7 1247.7L456.8 1245.7L456.9 1243.7L457.1 1241.7L457.2 1239.7L457.3 1237.7L457.4 1235.7L457.5 1233.7L457.6 1231.7L457.7 1229.7L457.8 1227.7L457.9 1225.7L458.0 1223.7L458.1 1221.7L458.2 1219.7L458.3 1217.7L458.4 1215.7L458.5 1213.7L458.6 1211.7L458.7 1209.7L458.8 1207.7L458.9 1205.8L459.0 1203.8L459.1 1201.8L459.2 1199.8L459.3 1197.8L459.4 1195.8L459.5 1193.8L459.6 1191.8L459.7 1189.8L459.8 1187.8L459.9 1185.8L460.0 1183.8L460.1 1181.8L460.2 1179.8L460.3 1177.8L460.4 1175.8L460.5 1173.8L460.6 1171.8L460.7 1169.8L460.8 1167.8L460.9 1165.8L461.0 1163.8L461.1 1161.8L461.1 1159.8L461.2 1157.8L461.3 1155.8L461.4 1153.8L461.5 1151.8L461.6 1149.8L461.7 1147.8L461.8 1145.8L461.9 1143.8L462.0 1141.8L462.1 1139.8L462.2 1137.8L462.2 1135.8L462.3 1133.8L462.4 1131.8L462.5 1129.8L462.6 1127.8L462.7 1125.8L462.8 1123.9L462.9 1121.9L463.0 1119.9L463.0 1117.9L463.1 1115.9L463.2 1113.9L463.3 1111.9L463.4 1109.9L463.5 1107.9L463.6 1105.9L463.7 1103.9L463.7 1101.9L463.8 1099.9L463.9 1097.9L464.0 1095.9L464.1 1093.9L464.2 1091.9L464.3 1089.9L464.4 1087.9L464.4 1085.9L464.5 1083.9L464.6 1081.9L464.7 1079.9L464.8 1077.9L464.9 1075.9L465.0 1073.9L465.1 1071.9L465.1 1069.9L465.2 1067.9L465.3 1065.9L465.4 1063.9L465.5 1061.9L465.6 1059.9L465.7 1057.9L465.7 1055.9L465.8 1053.9L465.9 1051.9L466.0 1049.9L466.1 1047.9L466.2 1045.9L466.3 1043.9L466.4 1041.9L466.4 1039.9L466.5 1037.9L466.6 1035.9L466.7 1033.9L466.8 1031.9L466.9 1030.0L467.0 1028.0L467.1 1026.0L467.2 1024.0L467.2 1022.0L467.3 1020.0L467.4 1018.0L467.5 1016.0L467.6 1014.0L467.7 1012.0L467.8 1010.0L467.9 1008.0L468.0 1006.0L468.0 1004.0L468.1 1002.0L468.2 1000.0L468.3 998.0L468.4 996.0L468.5 994.0L468.6 992.0L468.7 990.0L468.8 988.0L468.9 986.0L469.0 984.0L469.1 982.0L469.2 980.0L469.2 978.0L469.3 976.0L469.4 974.0L469.5 972.0L469.6 970.0L469.7 968.0L469.8 966.0L469.9 964.0L470.0 962.0L470.1 960.0L470.2 958.0L470.3 956.1L470.4 954.1L470.5 952.1L470.6 950.1L470.7 948.1L470.8 946.1L470.9 944.1L471.0 942.1L471.1 940.1L471.2 938.1L471.3 936.1L471.4 934.1L471.5 932.1L471.6 930.1L471.7 928.1L471.8 926.1L471.9 924.1L472.0 922.1L472.1 920.1L472.2 918.1L472.4 916.1L472.5 914.1L472.6 912.1L472.7 910.1L472.8 908.1L472.9 906.1L473.0 904.1L473.1 902.1L473.2 900.2L473.3 898.2L473.5 896.2L473.6 894.2L473.7 892.2L473.8 890.2L473.9 888.2L474.0 886.2L474.1 884.2L474.3 882.2L474.4 880.2L474.5 878.2L474.6 876.2L474.7 874.2L474.9 872.2L475.0 870.2L475.1 868.2L475.2 866.2L475.3 864.2L475.5 862.2L475.6 860.2L475.7 858.2L475.8 856.3L476.0 854.3L476.1 852.3L476.2 850.3L476.4 848.3L476.5 846.3L476.6 844.3L476.8 842.3L476.9 840.3L477.0 838.3L477.2 836.3L477.3 834.3L477.4 832.3L477.6 830.3L477.7 828.3L477.8 826.3L478.0 824.3L478.1 822.3L478.3 820.4L478.4 818.4L478.5 816.4L478.7 814.4L478.8 812.4L479.0 810.4L479.1 808.4L479.3 806.4L479.4 804.4L479.6 802.4L479.7 800.4L479.9 798.4L480.0 796.4L480.2 794.4L480.3 792.4L480.5 790.5L480.6 788.5L480.8 786.5L480.9 784.5L481.1 782.5L481.3 780.5L481.4 778.5L481.6 776.5L481.7 774.5L481.9 772.5L482.1 770.5L482.2 768.5L482.4 766.5L482.6 764.5L482.7 762.6L482.9 760.6L483.1 758.6L483.2 756.6L483.4 754.6L483.6 752.6L483.8 750.6L483.9 748.6L484.1 746.6L484.3 744.6L484.5 742.6L484.7 740.6L484.8 738.7L485.0 736.7L485.2 734.7L485.4 732.7L485.6 730.7L485.8 728.7L486.0 726.7L486.1 724.7L486.3 722.7L486.5 720.7L486.7 718.7L486.9 716.7L487.1 714.8L487.3 712.8L487.5 710.8L487.7 708.8L487.9 706.8L488.1 704.8L488.3 702.8L488.5 700.8L488.7 698.8L488.9 696.8L489.1 694.9L489.3 692.9L489.5 690.9L489.7 688.9L489.9 686.9L490.2 684.9L490.4 682.9L490.6 680.9L490.8 678.9L491.0 676.9L491.2 675.0L491.4 673.0L491.6 671.0L491.8 669.0L492.0 667.0L492.2 665.0L492.4 663.0L492.6 661.0L492.8 659.0L493.0 657.1L493.3 655.1L493.5 653.1L493.7 651.1L493.9 649.1L494.1 647.1L494.3 645.1L494.5 643.1L494.7 641.1L494.9 639.2L495.1 637.2L495.3 635.2L495.5 633.2L495.6 631.2L495.8 629.2L496.0 627.2L496.2 625.2L496.4 623.2L496.6 621.3L496.8 619.3L497.0 617.3L497.2 615.3L497.4 613.3L497.6 611.3L497.8 609.3L498.0 607.3L498.2 605.4L498.5 603.4L498.7 601.4L498.9 599.4L499.2 597.4L499.4 595.5L499.7 593.5L499.9 591.5L500.2 589.5L500.5 587.5L500.8 585.6L501.1 583.6L501.4 581.6L501.7 579.7L502.1 577.7L502.4 575.7L502.7 573.8L503.1 571.8L503.5 569.8L503.8 567.9L504.2 565.9L504.6 563.9L505.0 562.0L505.3 560.0L505.7 558.1L506.1 556.1L506.6 554.1L507.0 552.2L507.4 550.2L507.8 548.3L508.2 546.3L508.7 544.4L509.1 542.4L509.6 540.5L510.0 538.5L510.5 536.6L510.9 534.6L511.4 532.7L511.8 530.7L512.3 528.8L512.8 526.8L513.2 524.9L513.7 522.9L514.2 521.0L514.6 519.0L515.1 517.1L515.6 515.1L516.1 513.2L516.6 511.2L517.1 509.3L517.5 507.4L518.0 505.4L518.5 503.5L519.0 501.5L519.5 499.6L520.0 497.6L520.5 495.7L520.9 493.8L521.4 491.8L521.9 489.9L522.5 487.9L523.0 486.0L523.5 484.1L524.0 482.2L524.6 480.2L525.1 478.3L525.7 476.4L526.3 474.5L526.9 472.6L527.5 470.7L528.1 468.8L528.8 466.9L529.4 465.1L530.1 463.2L530.8 461.3L531.6 459.5L532.3 457.6L533.1 455.8L533.9 454.0L534.6 452.1L535.5 450.3L536.3 448.5L537.1 446.7L537.9 444.9L538.8 443.0L539.6 441.2L540.4 439.4L541.3 437.6L542.1 435.8L542.9 433.9L543.8 432.1L544.6 430.3L545.4 428.4L546.2 426.6L547.0 424.7L547.8 422.9L548.6 421.0L549.5 419.2L550.3 417.3L551.3 415.5L552.2 413.7L553.3 411.9L554.4 410.2L555.6 408.5L556.9 406.8L558.3 405.2L559.7 403.7L561.3 402.5L562.9 401.5L564.5 400.8L566.2 400.5L567.9 400.6L569.6 401.1L571.3 401.9L573.0 402.9L574.6 404.2L576.1 405.7L577.5 407.3L578.8 409.0L579.9 410.8L581.0 412.5L581.9 414.3L582.8 416.2L583.6 418.0L584.4 419.9L585.2 421.8L585.9 423.7L586.6 425.6L587.3 427.5L588.0 429.4L588.7 431.3L589.4 433.2L590.0 435.1L590.6 437.0L591.2 438.9L591.8 440.8L592.4 442.7L593.0 444.7L593.5 446.6L594.1 448.5L594.6 450.4L595.1 452.4L595.6 454.3L596.2 456.2L596.7 458.2L597.1 460.1L597.6 462.0L598.1 464.0L598.6 465.9L599.1 467.8L599.5 469.8L600.0 471.7L600.5 473.7L600.9 475.6L601.4 477.6L601.9 479.5L602.3 481.4L602.8 483.4L603.2 485.3L603.7 487.3L604.2 489.2L604.7 491.1L605.1 493.1L605.6 495.0L606.1 496.9L606.5 498.9L607.0 500.8L607.5 502.8L608.0 504.7L608.5 506.6L609.0 508.6L609.5 510.5L609.9 512.4L610.4 514.4L610.9 516.3L611.4 518.2L611.9 520.1L612.5 522.1L613.0 524.0L613.5 525.9L614.0 527.9L614.5 529.8L615.1 531.7L615.6 533.6L616.1 535.6L616.6 537.5L617.2 539.4L617.7 541.3L618.3 543.2L618.8 545.1L619.4 547.1L620.0 549.0L620.5 550.9L621.1 552.8L621.7 554.7L622.3 556.6L622.8 558.5L623.4 560.4L624.0 562.3L624.6 564.2L625.2 566.1L625.9 568.0L626.5 569.9L627.1 571.8L627.7 573.7L628.4 575.6L629.0 577.5L629.7 579.4L630.3 581.3L631.0 583.2L631.6 585.1L632.3 587.0L633.0 588.9L633.7 590.7L634.4 592.6L635.0 594.5L635.7 596.4L636.4 598.3L637.1 600.1L637.8 602.0L638.5 603.9L639.2 605.8L640.0 607.6L640.7 609.5L641.4 611.4L642.1 613.3L642.8 615.1L643.5 617.0L644.2 618.9L644.9 620.8L645.6 622.6L646.4 624.5L647.1 626.4L647.8 628.3L648.5 630.1L649.2 632.0L649.9 633.9L650.6 635.8L651.3 637.6L652.0 639.5L652.6 641.4L653.3 643.3L654.0 645.2L654.7 647.0L655.3 648.9L656.0 650.8L656.7 652.7L657.3 654.6L657.9 656.5L658.6 658.4L659.2 660.3L659.8 662.2L660.4 664.1L661.0 666.0L661.6 667.9L662.2 669.8L662.8 671.7L663.4 673.6L663.9 675.5L664.5 677.4L665.0 679.3L665.5 681.2L666.1 683.2L666.6 685.1L667.1 687.0L667.5 688.9L668.0 690.9L668.5 692.8L668.9 694.7L669.4 696.7L669.8 698.6L670.2 700.6L670.6 702.5L671.1 704.4L671.5 706.4L671.8 708.3L672.2 710.3L672.6 712.3L673.0 714.2L673.3 716.2L673.7 718.1L674.0 720.1L674.4 722.1L674.7 724.0L675.0 726.0L675.4 728.0L675.7 729.9L676.0 731.9L676.3 733.9L676.6 735.9L676.9 737.8L677.2 739.8L677.5 741.8L677.8 743.8L678.0 745.8L678.3 747.7L678.6 749.7L678.8 751.7L679.1 753.7L679.4 755.7L679.6 757.7L679.9 759.7L680.1 761.7L680.4 763.6L680.7 765.6L680.9 767.6L681.1 769.6L681.4 771.6L681.6 773.6L681.9 775.6L682.1 777.6L682.4 779.6L682.6 781.6L682.9 783.6L683.1 785.6L683.4 787.6L683.6 789.6L683.8 791.6L684.1 793.6L684.3 795.6L684.6 797.6L684.9 799.6L685.1 801.6L685.4 803.6L685.6 805.6L685.9 807.6L686.2 809.6L686.4 811.6L686.7 813.6L687.0 815.6L687.3 817.5L687.5 819.5L687.8 821.5L688.1 823.5L688.4 825.5L688.7 827.5L689.0 829.5L689.4 831.5L689.7 833.5L690.0 835.5L690.3 837.5L690.7 839.5L691.0 841.5L691.4 843.4L691.7 845.4L692.1 847.4L692.5 849.4L692.8 851.4L693.2 853.3L693.6 855.3L694.0 857.3L694.4 859.2L694.8 861.2L695.2 863.1L695.6 865.1L696.0 867.0L696.4 868.9L696.8 870.9L697.2 872.8L697.6 874.7L698.0 876.6L698.5 878.5L698.9 880.4L699.3 882.2L699.7 884.1L700.1 885.9L700.6 887.8L701.0 889.6L701.4 891.4L701.8 893.3L702.3 895.1L702.7 897.0L703.2 898.8L703.6 900.7L704.1 902.6L704.6 904.6L705.1 906.6L705.6 908.6L706.1 910.7L706.6 912.8L707.2 915.0L707.8 917.2L708.4 919.6L709.0 921.9L709.7 924.3L710.4 926.6L711.2 928.9L712.0 931.0L712.9 932.9L713.9 934.6L715.0 936.0L716.2 937.1L717.5 937.8L718.9 938.2L720.4 938.0L722.1 937.6L723.8 936.8L725.6 935.8L727.5 934.7L729.4 933.5L731.3 932.3L733.2 931.3L735.1 930.4L736.9 929.9L738.7 929.6L740.3 929.7L741.9 930.3L743.5 931.1L744.9 932.3L746.3 933.7L747.6 935.4L748.9 937.2L750.0 939.2L751.2 941.2L752.2 943.4L753.3 945.5L754.2 947.6L755.2 949.7L756.0 951.8L756.9 953.8L757.7 955.7L758.5 957.7L759.2 959.6L759.9 961.5L760.6 963.4L761.2 965.2L761.9 967.1L762.5 968.9L763.1 970.7L763.7 972.5L764.3 974.3L764.8 976.1L765.4 978.0L766.0 979.8L766.5 981.6L767.1 983.4L767.7 985.3L768.2 987.2L768.8 989.1L769.4 991.0L770.0 992.9L770.6 994.8L771.2 996.7L771.8 998.6L772.4 1000.6L773.0 1002.5L773.6 1004.4L774.3 1006.3L774.9 1008.3L775.5 1010.2L776.1 1012.1L776.7 1014.0L777.4 1015.9L778.0 1017.8L778.6 1019.7L779.2 1021.5L779.8 1023.4L780.5 1025.2L781.1 1027.0L781.7 1028.8L782.3 1030.6L782.9 1032.4L783.5 1034.2L784.2 1036.0L784.8 1037.8L785.4 1039.6L786.1 1041.4L786.7 1043.3L787.4 1045.1L788.0 1047.1L788.7 1049.0L789.4 1051.1L790.1 1053.1L790.8 1055.3L791.6 1057.4L792.3 1059.7L793.1 1062.0L793.9 1064.3L794.7 1066.5L795.6 1068.5L796.5 1070.3L797.5 1071.7L798.6 1072.7L799.7 1073.2L800.9 1073.2L802.2 1072.6L803.6 1071.6L804.9 1070.2L806.2 1068.6L807.5 1066.7L808.7 1064.7L809.8 1062.7L810.7 1060.6L811.5 1058.6L812.3 1056.6L812.9 1054.6L813.4 1052.6L813.9 1050.6L814.3 1048.6L814.6 1046.6L814.9 1044.6L815.1 1042.6L815.3 1040.7L815.5 1038.7L815.6 1036.7L815.8 1034.7L816.0 1032.8L816.1 1030.8L816.3 1028.8L816.5 1026.8L816.7 1024.8L816.9 1022.9L817.1 1020.9L817.3 1018.9L817.5 1016.9L817.7 1015.0L818.0 1013.0L818.2 1011.0L818.4 1009.0L818.7 1007.0L818.9 1005.1L819.1 1003.1L819.4 1001.1L819.6 999.1L819.9 997.1L820.1 995.2L820.4 993.2L820.6 991.2L820.9 989.2L821.1 987.2L821.4 985.2L821.6 983.3L821.9 981.3L822.1 979.3L822.3 977.3L822.6 975.3L822.8 973.3L823.1 971.3L823.3 969.4L823.5 967.4L823.8 965.4L824.0 963.4L824.2 961.4L824.5 959.4L824.7 957.4L825.0 955.4L825.2 953.5L825.4 951.5L825.7 949.5L825.9 947.5L826.1 945.5L826.4 943.5L826.6 941.5L826.9 939.5L827.1 937.6L827.4 935.6L827.6 933.6L827.9 931.6L828.1 929.6L828.4 927.6L828.6 925.6L828.9 923.6L829.1 921.7L829.4 919.7L829.7 917.7L829.9 915.7L830.2 913.7L830.5 911.7L830.8 909.8L831.0 907.8L831.3 905.8L831.6 903.8L831.9 901.8L832.2 899.9L832.5 897.9L832.8 895.9L833.1 893.9L833.4 892.0L833.7 890.0L834.1 888.0L834.4 886.0L834.7 884.1L835.1 882.1L835.4 880.1L835.8 878.2L836.1 876.2L836.5 874.2L836.8 872.3L837.2 870.3L837.6 868.4L838.0 866.4L838.4 864.4L838.7 862.5L839.2 860.5L839.6 858.6L840.0 856.6L840.4 854.7L840.8 852.7L841.3 850.8L841.7 848.8L842.2 846.9L842.6 844.9L843.1 843.0L843.6 841.0L844.0 839.1L844.5 837.2L845.0 835.2L845.5 833.3L846.0 831.4L846.6 829.4L847.1 827.5L847.6 825.6L848.2 823.7L848.7 821.7L849.3 819.8L849.9 817.9L850.5 816.0L851.1 814.1L851.7 812.2L852.3 810.3L852.9 808.4L853.5 806.5L854.1 804.6L854.8 802.7L855.4 800.8L856.1 798.9L856.8 797.0L857.5 795.1L858.1 793.3L858.8 791.4L859.5 789.5L860.3 787.6L861.0 785.8L861.7 783.9L862.5 782.1L863.2 780.2L864.0 778.4L864.7 776.5L865.5 774.7L866.3 772.9L867.1 771.0L867.9 769.2L868.7 767.4L869.5 765.6L870.4 763.8L871.2 762.0L872.0 760.2L872.9 758.3L873.7 756.5L874.6 754.7L875.5 752.9L876.4 751.1L877.2 749.4L878.1 747.6L879.0 745.8L879.9 744.0L880.8 742.2L881.7 740.4L882.7 738.6L883.6 736.8L884.5 735.0L885.4 733.2L886.3 731.4L887.2 729.6L888.0 727.8L888.9 725.9L889.7 724.1L890.6 722.3L891.3 720.5L892.1 718.6L892.9 716.8L893.6 714.9L894.2 713.0L894.9 711.2L895.5 709.3L896.1 707.4L896.6 705.5L897.2 703.6L897.7 701.7L898.2 699.8L898.6 697.9L899.1 695.9L899.5 694.0L899.9 692.0L900.3 690.1L900.6 688.2L901.0 686.2L901.3 684.2L901.6 682.3L901.9 680.3L902.2 678.3L902.5 676.4L902.8 674.4L903.0 672.4L903.3 670.4L903.5 668.4L903.8 666.4L904.0 664.5L904.2 662.5L904.4 660.5L904.7 658.5L904.9 656.5L905.1 654.5L905.3 652.5L905.5 650.5L905.8 648.5L906.0 646.5L906.2 644.5L906.5 642.5L906.7 640.5L906.9 638.5L907.2 636.6L907.4 634.6L907.7 632.6L907.9 630.6L908.2 628.6L908.4 626.6L908.7 624.6L908.9 622.6L909.2 620.6L909.5 618.6L909.7 616.6L910.0 614.6L910.2 612.7L910.5 610.7L910.8 608.7L911.0 606.7L911.3 604.7L911.6 602.7L911.8 600.7L912.1 598.7L912.4 596.7L912.7 594.8L912.9 592.8L913.2 590.8L913.5 588.8L913.7 586.8L914.0 584.8L914.3 582.8L914.5 580.9L914.8 578.9L915.1 576.9L915.4 574.9L915.6 572.9L915.9 570.9L916.2 568.9L916.4 567.0L916.7 565.0L916.9 563.0L917.2 561.0L917.5 559.0L917.7 557.0L918.0 555.0L918.2 553.1L918.5 551.1L918.7 549.1L919.0 547.1L919.2 545.1L919.5 543.1L919.7 541.2L919.9 539.2L920.2 537.2L920.4 535.2L920.6 533.2L920.9 531.3L921.1 529.3L921.3 527.3L921.5 525.3L921.7 523.3L922.0 521.3L922.2 519.4L922.4 517.4L922.6 515.4L922.8 513.4L923.0 511.4L923.1 509.5L923.3 507.5L923.5 505.5L923.7 503.5L923.8 501.5L924.0 499.6L924.2 497.6L924.3 495.6L924.5 493.6L924.6 491.6L924.8 489.7L924.9 487.7L925.0 485.7L925.2 483.7L925.3 481.7L925.4 479.8L925.5 477.8L925.6 475.8L925.7 473.8L925.8 471.8L925.9 469.9L926.0 467.9L926.1 465.9L926.3 463.9L926.4 461.9L926.5 460.0L926.7 458.0L926.9 456.0L927.0 454.0L927.2 452.0L927.5 450.0L927.7 448.1L928.0 446.1L928.3 444.1L928.6 442.1L928.9 440.1L929.3 438.1L929.7 436.1L930.1 434.1L930.6 432.2L931.1 430.2L931.7 428.2L932.3 426.2L932.9 424.2L933.6 422.2L934.3 420.2L935.1 418.2L935.9 416.2L936.8 414.2L937.7 412.2L938.7 410.1L939.7 408.1L940.8 406.2L941.9 404.4L943.1 402.7L944.3 401.2L945.4 400.0L946.6 399.1L947.8 398.5L948.9 398.4L950.0 398.8L951.1 399.5L952.2 400.6L953.2 402.0L954.2 403.7L955.2 405.6L956.1 407.7L957.1 409.9L958.0 412.2L958.9 414.6L959.7 416.9L960.6 419.2L961.4 421.4L962.2 423.5L963.0 425.5L963.7 427.4L964.5 429.3L965.2 431.1L965.9 432.9L966.6 434.7L967.2 436.5L967.9 438.2L968.5 440.0L969.1 441.8L969.7 443.7L970.2 445.5L970.8 447.4L971.3 449.3L971.8 451.2L972.4 453.2L972.9 455.1L973.4 457.1L973.8 459.0L974.3 461.0L974.8 463.0L975.3 464.9L975.8 466.9L976.2 468.9L976.7 470.8L977.2 472.8L977.6 474.7L978.1 476.7L978.6 478.6L979.1 480.6L979.5 482.5L980.0 484.5L980.5 486.4L981.0 488.3L981.5 490.3L981.9 492.2L982.4 494.1L982.9 496.1L983.4 498.0L983.9 499.9L984.4 501.9L984.9 503.8L985.4 505.7L985.9 507.6L986.4 509.6L987.0 511.5L987.5 513.4L988.0 515.3L988.6 517.3L989.1 519.2L989.7 521.1L990.2 523.0L990.8 525.0L991.4 526.9L992.0 528.8L992.6 530.7L993.2 532.6L993.8 534.6L994.4 536.5L995.0 538.4L995.6 540.3L996.3 542.2L996.9 544.1L997.6 546.0L998.2 547.9L998.9 549.8L999.6 551.6L1000.3 553.5L1001.0 555.4L1001.7 557.3L1002.4 559.1L1003.2 561.0L1003.9 562.8L1004.7 564.7L1005.4 566.5L1006.2 568.4L1007.0 570.2L1007.8 572.0L1008.6 573.9L1009.4 575.7L1010.3 577.5L1011.1 579.3L1012.0 581.1L1012.8 582.9L1013.7 584.6L1014.6 586.4L1015.5 588.2L1016.5 589.9L1017.4 591.7L1018.4 593.4L1019.3 595.1L1020.3 596.8L1021.4 598.5L1022.4 600.2L1023.5 601.9L1024.5 603.6L1025.7 605.2L1026.8 606.9L1028.0 608.5L1029.3 610.1L1030.5 611.7L1031.9 613.3L1033.2 614.9L1034.6 616.4L1036.1 617.9L1037.6 619.4L1039.2 620.9L1040.8 622.3L1042.4 623.6L1044.1 624.9L1045.8 626.0L1047.6 627.0L1049.4 627.8L1051.2 628.5L1053.1 628.9L1054.9 629.2L1056.8 629.2L1058.7 629.0L1060.6 628.6L1062.5 628.0L1064.4 627.2L1066.2 626.3L1068.1 625.3L1069.8 624.2L1071.6 623.0L1073.3 621.7L1074.9 620.4L1076.5 619.1L1078.0 617.7L1079.5 616.3L1080.9 614.9L1082.3 613.5L1083.7 612.0L1085.0 610.5L1086.3 609.0L1087.5 607.5L1088.8 606.0L1090.0 604.5L1091.2 602.9L1092.5 601.3L1093.7 599.8L1094.8 598.2L1096.0 596.6L1097.2 594.9L1098.4 593.3L1099.5 591.7L1100.7 590.1L1101.8 588.4L1103.0 586.8L1104.1 585.1L1105.2 583.4L1106.3 581.7L1107.4 580.1L1108.5 578.4L1109.6 576.7L1110.7 575.0L1111.8 573.3L1112.9 571.6L1114.0 569.9L1115.0 568.2L1116.1 566.4L1117.1 564.7L1118.2 563.0L1119.2 561.3L1120.3 559.6L1121.3 557.9L1122.4 556.2L1123.4 554.4L1124.4 552.7L1125.5 551.0L1126.5 549.3L1127.5 547.6L1128.5 545.9L1129.6 544.2L1130.6 542.5L1131.6 540.8L1132.6 539.1L1133.6 537.4L1134.7 535.7L1135.7 534.0L1136.7 532.3L1137.7 530.7L1138.8 529.0L1139.8 527.3L1140.8 525.6L1141.9 523.9L1142.9 522.3L1144.0 520.6L1145.0 518.9L1146.1 517.2L1147.1 515.6L1148.2 513.9L1149.3 512.3L1150.4 510.6L1151.5 508.9L1152.6 507.3L1153.7 505.6L1154.8 504.0L1155.9 502.3L1157.1 500.7L1158.2 499.0L1159.4 497.4L1160.6 495.7L1161.8 494.1L1163.0 492.4L1164.2 490.8L1165.4 489.1L1166.6 487.5L1167.9 485.9L1169.2 484.2L1170.4 482.6L1171.8 481.0L1173.1 479.4L1174.4 477.9L1175.8 476.3L1177.2 474.8L1178.6 473.3L1180.0 471.9L1181.4 470.5L1182.9 469.1L1184.4 467.8L1186.0 466.5L1187.5 465.2L1189.1 464.0L1190.7 462.9L1192.3 461.8L1194.0 460.7L1195.7 459.8L1197.5 458.9L1199.2 458.0L1201.0 457.2L1202.9 456.5L1204.8 455.9L1206.7 455.4L1208.6 454.9L1210.6 454.5L1212.6 454.2L1214.6 454.0L1216.6 453.8L1218.6 453.7L1220.6 453.8L1222.7 453.9L1224.7 454.1L1226.7 454.3L1228.6 454.7L1230.6 455.1L1232.5 455.7L1234.4 456.3L1236.2 457.0L1238.0 457.8L1239.7 458.7L1241.4 459.7L1243.0 460.8L1244.6 461.9L1246.1 463.2L1247.5 464.5L1248.9 465.9L1250.2 467.4L1251.5 468.9L1252.7 470.5L1253.9 472.2L1255.0 473.8L1256.1 475.5L1257.2 477.3L1258.3 479.0L1259.4 480.8L1260.4 482.6L1261.4 484.4L1262.4 486.2L1263.4 487.9L1264.4 489.7L1265.3 491.5L1266.3 493.3L1267.2 495.2L1268.1 497.0L1269.0 498.8L1269.9 500.6L1270.8 502.4L1271.6 504.2L1272.5 506.1L1273.3 507.9L1274.2 509.7L1275.0 511.6L1275.8 513.4L1276.6 515.3L1277.4 517.1L1278.1 519.0L1278.9 520.8L1279.6 522.7L1280.4 524.6L1281.1 526.4L1281.8 528.3L1282.5 530.2L1283.2 532.0L1283.9 533.9L1284.6 535.8L1285.3 537.7L1285.9 539.6L1286.6 541.4L1287.2 543.3L1287.9 545.2L1288.5 547.1L1289.1 549.0L1289.7 550.9L1290.4 552.8L1291.0 554.7L1291.5 556.6L1292.1 558.5L1292.7 560.4L1293.3 562.3L1293.8 564.3L1294.4 566.2L1294.9 568.1L1295.5 570.0L1296.0 571.9L1296.6 573.8L1297.1 575.8L1297.6 577.7L1298.1 579.6L1298.7 581.5L1299.2 583.5L1299.7 585.4L1300.2 587.3L1300.7 589.3L1301.2 591.2L1301.7 593.1L1302.2 595.1L1302.6 597.0L1303.1 598.9L1303.6 600.9L1304.1 602.8L1304.5 604.7L1305.0 606.7L1305.5 608.6L1306.0 610.6L1306.4 612.5L1306.9 614.4L1307.4 616.4L1307.8 618.3L1308.3 620.3L1308.7 622.2L1309.2 624.2L1309.6 626.1L1310.1 628.0L1310.6 630.0L1311.0 631.9L1311.5 633.9L1311.9 635.8L1312.4 637.8L1312.8 639.7L1313.2 641.7L1313.7 643.6L1314.1 645.6L1314.6 647.5L1315.0 649.5L1315.5 651.4L1315.9 653.4L1316.3 655.3L1316.8 657.3L1317.2 659.2L1317.6 661.2L1318.1 663.1L1318.5 665.1L1318.9 667.0L1319.4 669.0L1319.8 670.9L1320.2 672.9L1320.6 674.8L1321.1 676.8L1321.5 678.7L1321.9 680.7L1322.3 682.7L1322.7 684.6L1323.2 686.6L1323.6 688.5L1324.0 690.5L1324.4 692.4L1324.8 694.4L1325.2 696.3L1325.6 698.3L1326.1 700.3L1326.5 702.2L1326.9 704.2L1327.3 706.1L1327.7 708.1L1328.1 710.0L1328.5 712.0L1328.9 714.0L1329.3 715.9L1329.7 717.9L1330.1 719.8L1330.5 721.8L1330.9 723.8L1331.3 725.7L1331.7 727.7L1332.1 729.6L1332.5 731.6L1332.9 733.6L1333.3 735.5L1333.7 737.5L1334.1 739.5L1334.5 741.4L1334.9 743.4L1335.3 745.3L1335.7 747.3L1336.1 749.3L1336.4 751.2L1336.8 753.2L1337.2 755.2L1337.6 757.1L1338.0 759.1L1338.4 761.0L1338.8 763.0L1339.2 765.0L1339.5 766.9L1339.9 768.9L1340.3 770.9L1340.7 772.8L1341.1 774.8L1341.5 776.8L1341.8 778.7L1342.2 780.7L1342.6 782.7L1343.0 784.6L1343.4 786.6L1343.7 788.5L1344.1 790.5L1344.5 792.5L1344.9 794.4L1345.3 796.4L1345.6 798.4L1346.0 800.3L1346.4 802.3L1346.8 804.3L1347.1 806.2L1347.5 808.2L1347.9 810.2L1348.3 812.1L1348.6 814.1L1349.0 816.1L1349.4 818.0L1349.8 820.0L1350.1 821.9L1350.5 823.9L1350.9 825.9L1351.3 827.8L1351.6 829.8L1352.0 831.8L1352.4 833.7L1352.7 835.7L1353.1 837.7L1353.5 839.6L1353.9 841.6L1354.2 843.6L1354.6 845.5L1355.0 847.5L1355.3 849.5L1355.7 851.4L1356.1 853.4L1356.5 855.3L1356.8 857.3L1357.2 859.3L1357.6 861.2L1357.9 863.2L1358.3 865.2L1358.7 867.1L1359.1 869.1L1359.4 871.1L1359.8 873.0L1360.2 875.0L1360.6 877.0L1360.9 878.9L1361.3 880.9L1361.7 882.8L1362.0 884.8L1362.4 886.8L1362.8 888.7L1363.2 890.7L1363.5 892.7L1363.9 894.6L1364.3 896.6L1364.7 898.6L1365.0 900.5L1365.4 902.5L1365.8 904.4L1366.2 906.4L1366.5 908.4L1366.9 910.3L1367.3 912.3L1367.7 914.3L1368.1 916.2L1368.4 918.2L1368.8 920.1L1369.2 922.1L1369.6 924.1L1370.0 926.0L1370.3 928.0L1370.7 929.9L1371.1 931.9L1371.5 933.9L1371.9 935.8L1372.3 937.8L1372.6 939.7L1373.0 941.7L1373.4 943.7L1373.8 945.6L1374.2 947.6L1374.6 949.5L1375.0 951.5L1375.4 953.5L1375.8 955.4L1376.1 957.4L1376.5 959.3L1376.9 961.3L1377.3 963.3L1377.7 965.2L1378.1 967.2L1378.5 969.1L1378.9 971.1L1379.3 973.1L1379.7 975.0L1380.1 977.0L1380.5 978.9L1380.9 980.9L1381.3 982.8L1381.7 984.8L1382.1 986.7L1382.5 988.7L1382.9 990.7L1383.3 992.6L1383.7 994.6L1384.2 996.5L1384.6 998.5L1385.0 1000.4L1385.4 1002.4L1385.8 1004.3L1386.2 1006.3L1386.6 1008.3L1387.1 1010.2L1387.5 1012.2L1387.9 1014.1L1388.3 1016.1L1388.7 1018.0L1389.2 1020.0L1389.6 1021.9L1390.0 1023.9L1390.4 1025.8L1390.9 1027.8L1391.3 1029.7L1391.7 1031.7L1392.2 1033.6L1392.6 1035.6L1393.0 1037.5L1393.5 1039.5L1393.9 1041.4L1394.3 1043.4L1394.8 1045.3L1395.2 1047.3L1395.7 1049.2L1396.1 1051.2L1396.6 1053.1L1397.0 1055.1L1397.5 1057.0L1397.9 1059.0L1398.4 1060.9L1398.8 1062.9L1399.3 1064.8L1399.7 1066.8L1400.2 1068.7L1400.7 1070.6L1401.1 1072.6L1401.6 1074.5L1402.0 1076.5L1402.5 1078.4L1403.0 1080.4L1403.4 1082.3L1403.9 1084.3L1404.4 1086.2L1404.9 1088.1L1405.3 1090.1L1405.8 1092.0L1406.3 1094.0L1406.8 1095.9L1407.3 1097.8L1407.8 1099.8L1408.2 1101.7L1408.7 1103.7L1409.2 1105.6L1409.7 1107.5L1410.2 1109.5L1410.7 1111.4L1411.2 1113.4L1411.7 1115.3L1412.2 1117.2L1412.7 1119.2L1413.2 1121.1L1413.7 1123.0L1414.2 1125.0L1414.8 1126.9L1415.3 1128.8L1415.8 1130.8L1416.3 1132.7L1416.8 1134.6L1417.3 1136.6L1417.9 1138.5L1418.4 1140.4L1418.9 1142.4L1419.4 1144.3L1420.0 1146.2L1420.5 1148.2L1421.0 1150.1L1421.6 1152.0L1422.1 1153.9L1422.7 1155.9L1423.2 1157.8L1423.7 1159.7L1424.3 1161.7L1424.8 1163.6L1425.4 1165.5L1425.9 1167.4L1426.5 1169.3L1427.0 1171.3L1427.6 1173.2L1428.2 1175.1L1428.7 1177.0L1429.3 1179.0L1429.9 1180.9L1430.4 1182.8L1431.0 1184.7L1431.6 1186.6L1432.1 1188.5L1432.7 1190.5L1433.3 1192.4L1433.9 1194.3L1434.5 1196.2L1435.0 1198.1L1435.6 1200.0L1436.2 1201.9L1436.8 1203.9L1437.4 1205.8L1438.0 1207.7L1438.6 1209.6L1439.2 1211.5L1439.8 1213.4L1440.4 1215.3L1441.0 1217.2L1441.6 1219.1L1442.2 1221.0L1442.8 1222.9L1443.5 1224.8L1444.1 1226.7L1444.7 1228.6L1445.3 1230.5L1445.9 1232.4L1446.6 1234.3L1447.2 1236.2L1447.8 1238.1L1448.5 1240.0L1449.1 1241.9L1449.7 1243.8L1450.4 1245.7L1451.0 1247.6L1451.7 1249.5L1452.3 1251.4L1453.0 1253.2L1453.6 1255.1L1454.3 1257.0L1455.0 1258.9L1455.6 1260.8L1456.3 1262.6L1457.0 1264.5L1457.7 1266.4L1458.4 1268.2L1459.1 1270.1L1459.8 1272.0L1460.6 1273.8L1461.3 1275.7L1462.0 1277.5L1462.8 1279.4L1463.5 1281.2L1464.3 1283.1L1465.1 1284.9L1465.9 1286.7L1466.7 1288.6L1467.5 1290.4L1468.3 1292.2L1469.1 1294.0L1469.9 1295.8L1470.8 1297.7L1471.7 1299.5L1472.5 1301.3L1473.4 1303.0L1474.3 1304.8L1475.2 1306.6L1476.2 1308.4L1477.1 1310.2L1478.0 1311.9L1479.0 1313.7L1480.0 1315.4L1481.0 1317.2L1482.0 1318.9L1483.0 1320.7L1484.1 1322.4L1485.1 1324.1L1486.2 1325.8L1487.3 1327.5L1488.4 1329.2L1489.5 1330.9L1490.7 1332.5L1491.8 1334.2L1493.0 1335.8L1494.2 1337.5L1495.4 1339.1L1496.6 1340.7L1497.8 1342.3L1499.1 1343.8L1500.3 1345.4L1501.6 1346.9L1502.9 1348.5L1504.2 1350.0L1505.6 1351.5L1506.9 1352.9L1508.3 1354.4L1509.7 1355.8L1511.1 1357.2L1512.5 1358.6L1513.9 1360.0L1515.4 1361.4L1516.8 1362.7L1518.3 1364.0L1519.8 1365.3L1521.3 1366.6L1522.9 1367.8L1524.4 1369.0L1526.0 1370.2L1527.6 1371.4L1529.2 1372.5L1530.8 1373.6L1532.5 1374.7L1534.2 1375.8L1535.8 1376.8L1537.5 1377.8L1539.2 1378.8L1541.0 1379.8L1542.7 1380.7L1544.5 1381.7L1546.2 1382.6L1548.0 1383.5L1549.8 1384.3L1551.6 1385.2L1553.4 1386.0L1555.3 1386.8L1557.1 1387.6L1559.0 1388.4L1560.8 1389.1L1562.7 1389.8L1564.6 1390.6L1566.5 1391.3L1568.4 1391.9L1570.3 1392.6L1572.2 1393.3L1574.1 1393.9L1576.0 1394.5L1577.9 1395.1L1579.9 1395.7L1581.8 1396.3L1583.8 1396.9L1585.7 1397.5L1587.7 1398.0L1589.6 1398.5L1591.6 1399.1L1593.6 1399.6L1595.5 1400.1L1597.5 1400.6L1599.4 1401.1L1601.4 1401.6L1603.4 1402.0L1605.3 1402.5L1607.3 1403.0L1609.3 1403.4L1611.2 1403.9L1613.2 1404.3L1615.2 1404.7L1617.1 1405.2L1619.1 1405.6L1621.1 1406.0L1623.0 1406.4L1625.0 1406.8L1627.0 1407.2L1628.9 1407.6L1630.9 1408.0L1632.9 1408.3L1634.8 1408.7L1636.8 1409.1L1638.7 1409.4L1640.7 1409.8L1642.7 1410.1L1644.6 1410.5L1646.6 1410.8L1648.6 1411.1L1650.5 1411.5L1652.5 1411.8L1654.5 1412.1L1656.4 1412.4L1658.4 1412.7L1660.4 1413.0L1662.3 1413.3L1664.3 1413.6L1666.3 1413.9L1668.2 1414.2L1670.2 1414.5L1672.2 1414.8L1674.1 1415.1L1676.1 1415.4L1678.1 1415.6L1680.1 1415.9L1682.0 1416.2L1684.0 1416.4L1686.0 1416.7L1688.0 1416.9L1689.9 1417.2L1691.9 1417.5L1693.9 1417.7L1695.8 1418.0L1697.8 1418.2L1699.8 1418.4L1701.8 1418.7L1703.8 1418.9L1705.7 1419.2L1707.7 1419.4L1709.7 1419.6L1711.7 1419.9L1713.7 1420.1L1715.6 1420.3L1717.6 1420.6L1719.6 1420.8L1721.6 1421.0L1723.6 1421.2L1725.6 1421.4L1727.5 1421.7L1729.5 1421.9L1731.5 1422.1L1733.5 1422.3L1735.5 1422.5L1737.5 1422.7L1739.5 1422.9L1741.4 1423.1L1743.4 1423.3L1745.4 1423.5L1747.4 1423.7L1749.4 1423.9L1751.4 1424.1L1753.4 1424.3L1755.4 1424.5L1757.4 1424.7L1759.4 1424.9L1761.3 1425.0L1763.3 1425.2L1765.3 1425.4L1767.3 1425.6L1769.3 1425.8L1771.3 1426.0L1773.3 1426.1L1775.3 1426.3L1777.3 1426.5L1779.3 1426.7L1781.3 1426.8L1783.3 1427.0L1785.3 1427.2L1787.3 1427.4L1789.3 1427.5L1791.3 1427.7L1793.2 1427.9L1795.2 1428.0L1797.2 1428.2L1799.2 1428.4L1801.2 1428.5L1803.2 1428.7L1805.2 1428.8L1807.2 1429.0L1809.2 1429.2L1811.2 1429.3L1813.2 1429.5L1815.2 1429.6L1817.2 1429.8L1819.2 1429.9L1821.2 1430.1L1823.2 1430.2L1825.2 1430.4L1827.2 1430.5L1829.2 1430.7L1831.2 1430.8L1833.2 1431.0L1835.2 1431.1L1837.2 1431.3L1839.2 1431.4L1841.2 1431.6L1843.2 1431.7L1845.2 1431.9L1847.2 1432.0L1849.2 1432.2L1851.2 1432.3L1853.2 1432.5L1855.1 1432.6L1857.1 1432.7L1859.1 1432.9L1861.1 1433.0L1863.1 1433.2L1865.1 1433.3L1867.1 1433.5L1869.1 1433.6L1871.1 1433.7L1873.1 1433.9L1875.1 1434.0L1877.1 1434.2L1879.1 1434.3L1881.1 1434.5L1883.1 1434.6L1885.1 1434.7L1887.1 1434.9L1889.1 1435.0L1891.1 1435.2L1893.1 1435.3L1895.0 1435.5L1897.0 1435.6L1899.0 1435.7L1901.0 1435.9L1903.0 1436.0L1905.0 1436.2L1907.0 1436.3L1909.0 1436.5L1911.0 1436.6L1913.0 1436.7L1915.0 1436.9L1917.0 1437.0L1918.9 1437.2L1920.9 1437.3L1922.9 1437.5L1924.9 1437.6L1926.9 1437.8L1928.9 1437.9L1930.9 1438.0L1932.9 1438.2L1934.9 1438.3L1936.9 1438.5L1938.9 1438.6L1940.8 1438.8L1942.8 1438.9L1944.8 1439.1L1946.8 1439.2L1948.8 1439.4L1950.8 1439.5L1952.8 1439.7L1954.8 1439.8L1956.8 1440.0L1958.8 1440.1L1960.7 1440.3L1962.7 1440.4L1964.7 1440.6L1966.7 1440.7L1968.7 1440.9L1970.7 1441.0L1972.7 1441.2L1974.7 1441.3L1976.7 1441.5L1978.7 1441.6L1980.7 1441.8L1982.6 1441.9L1984.6 1442.1L1986.6 1442.2L1988.6 1442.4L1990.6 1442.6L1992.6 1442.7L1994.6 1442.9L1996.6 1443.0L1998.6 1443.2L2000.6 1443.3L2002.6 1443.5L2004.6 1443.6L2006.6 1443.8L2008.6 1444.0L2010.6 1444.1L2012.5 1444.3L2014.5 1444.4L2016.5 1444.6L2018.5 1444.8L2020.5 1444.9L2022.5 1445.1L2024.5 1445.3L2026.5 1445.4L2028.5 1445.6L2030.5 1445.7L2032.5 1445.9L2034.5 1446.1L2036.5 1446.2" stroke="#c01e2e" stroke-width="8.0"/>
<path d="M297.5 1560.0L420.0 1557.5L428.0 1555.0L428.1 1555.1L429.6 1553.6L430.8 1552.1L431.9 1550.4L432.9 1548.7L433.7 1547.0L434.3 1545.1L434.9 1543.2L435.3 1541.3L435.7 1539.3L436.0 1537.3L436.2 1535.3L436.4 1533.3L436.6 1531.2L436.8 1529.2L436.9 1527.2L437.1 1525.1L437.3 1523.1L437.5 1521.1L437.7 1519.1L437.8 1517.1L438.0 1515.1L438.2 1513.1L438.4 1511.1L438.6 1509.1L438.8 1507.1L439.0 1505.2L439.2 1503.2L439.4 1501.2L439.5 1499.2L439.7 1497.2L439.9 1495.3L440.1 1493.3L440.3 1491.3L440.5 1489.3L440.6 1487.3L440.8 1485.4L441.0 1483.4L441.2 1481.4L441.4 1479.4L441.5 1477.4L441.7 1475.4L441.9 1473.4L442.0 1471.5L442.2 1469.5L442.4 1467.5L442.5 1465.5L442.7 1463.5L442.9 1461.5L443.0 1459.5L443.2 1457.5L443.4 1455.5L443.5 1453.6L443.7 1451.6L443.8 1449.6L444.0 1447.6L444.1 1445.6L444.3 1443.6L444.4 1441.6L444.6 1439.6L444.7 1437.6L444.9 1435.6L445.0 1433.6L445.2 1431.6L445.3 1429.6L445.5 1427.6L445.6 1425.6L445.8 1423.6L445.9 1421.6L446.1 1419.6L446.2 1417.6L446.3 1415.6L446.5 1413.6L446.6 1411.6L446.8 1409.6L446.9 1407.6L447.0 1405.6L447.2 1403.6L447.3 1401.7L447.4 1399.7L447.6 1397.7L447.7 1395.7L447.8 1393.7L448.0 1391.7L448.1 1389.7L448.2 1387.7L448.3 1385.7L448.5 1383.7L448.6 1381.7L448.7 1379.7L448.9 1377.7L449.0 1375.7L449.1 1373.7L449.2 1371.7L449.4 1369.7L449.5 1367.7L449.6 1365.7L449.7 1363.7L449.9 1361.7L450.0 1359.7L450.1 1357.7L450.2 1355.7L450.3 1353.7L450.5 1351.7L450.6 1349.7L450.7 1347.7L450.8 1345.7L450.9 1343.7L451.1 1341.7L451.2 1339.7L451.3 1337.7L451.4 1335.7L451.5 1333.7L451.6 1331.7L451.8 1329.7L451.9 1327.7L452.0 1325.7L452.1 1323.7L452.2 1321.7L452.3 1319.7L452.4 1317.7L452.6 1315.7L452.7 1313.7L452.8 1311.7L452.9 1309.7L453.0 1307.7L453.1 1305.7L453.2 1303.7L453.3 1301.7L453.4 1299.7L453.6 1297.7L453.7 1295.7L453.8 1293.7L453.9 1291.7L454.0 1289.7L454.1 1287.7L454.2 1285.7L454.3 1283.7L454.4 1281.8L454.5 1279.8L454.6 1277.8L454.7 1275.8L454.8 1273.8L454.9 1271.8L455.0 1269.8L455.1 1267.8L455.2 1265.8L455.4 1263.8L455.5 1261.8L455.6 1259.8L455.7 1257.8L455.8 1255.8L455.9 1253.8L456.0 1251.8L456.1 1249.8L456.2 1247.8L456.3 1245.8L456.4 1243.8L456.5 1241.8L456.6 1239.8L456.7 1237.8L456.8 1235.8L456.9 1233.8L457.0 1231.8L457.1 1229.8L457.2 1227.9L457.3 1225.9L457.4 1223.9L457.5 1221.9L457.6 1219.9L457.7 1217.9L457.8 1215.9L457.9 1213.9L458.0 1211.9L458.0 1209.9L458.1 1207.9L458.2 1205.9L458.3 1203.9L458.4 1201.9L458.5 1199.9L458.6 1197.9L458.7 1195.9L458.8 1193.9L458.9 1191.9L459.0 1189.9L459.1 1187.9L459.2 1185.9L459.3 1183.9L459.4 1182.0L459.5 1180.0L459.6 1178.0L459.7 1176.0L459.8 1174.0L459.9 1172.0L460.0 1170.0L460.0 1168.0L460.1 1166.0L460.2 1164.0L460.3 1162.0L460.4 1160.0L460.5 1158.0L460.6 1156.0L460.7 1154.0L460.8 1152.0L460.9 1150.0L461.0 1148.0L461.1 1146.0L461.2 1144.0L461.3 1142.0L461.4 1140.1L461.4 1138.1L461.5 1136.1L461.6 1134.1L461.7 1132.1L461.8 1130.1L461.9 1128.1L462.0 1126.1L462.1 1124.1L462.2 1122.1L462.3 1120.1L462.4 1118.1L462.5 1116.1L462.6 1114.1L462.7 1112.1L462.7 1110.1L462.8 1108.1L462.9 1106.1L463.0 1104.1L463.1 1102.1L463.2 1100.1L463.3 1098.2L463.4 1096.2L463.5 1094.2L463.6 1092.2L463.7 1090.2L463.8 1088.2L463.9 1086.2L464.0 1084.2L464.0 1082.2L464.1 1080.2L464.2 1078.2L464.3 1076.2L464.4 1074.2L464.5 1072.2L464.6 1070.2L464.7 1068.2L464.8 1066.2L464.9 1064.2L465.0 1062.2L465.1 1060.2L465.2 1058.2L465.3 1056.3L465.4 1054.3L465.5 1052.3L465.6 1050.3L465.6 1048.3L465.7 1046.3L465.8 1044.3L465.9 1042.3L466.0 1040.3L466.1 1038.3L466.2 1036.3L466.3 1034.3L466.4 1032.3L466.5 1030.3L466.6 1028.3L466.7 1026.3L466.8 1024.3L466.9 1022.3L467.0 1020.3L467.1 1018.3L467.2 1016.3L467.3 1014.3L467.4 1012.3L467.5 1010.3L467.6 1008.4L467.7 1006.4L467.8 1004.4L467.9 1002.4L468.0 1000.4L468.1 998.4L468.2 996.4L468.3 994.4L468.4 992.4L468.5 990.4L468.6 988.4L468.7 986.4L468.8 984.4L468.9 982.4L469.0 980.4L469.1 978.4L469.2 976.4L469.3 974.4L469.4 972.4L469.5 970.4L469.6 968.4L469.7 966.4L469.8 964.4L469.9 962.4L470.0 960.4L470.1 958.4L470.2 956.4L470.3 954.4L470.5 952.4L470.6 950.4L470.7 948.5L470.8 946.5L470.9 944.5L471.0 942.5L471.1 940.5L471.2 938.5L471.3 936.5L471.4 934.5L471.5 932.5L471.7 930.5L471.8 928.5L471.9 926.5L472.0 924.5L472.1 922.5L472.2 920.5L472.3 918.5L472.4 916.5L472.5 914.5L472.7 912.5L472.8 910.5L472.9 908.5L473.0 906.5L473.1 904.5L473.2 902.5L473.4 900.5L473.5 898.5L473.6 896.5L473.7 894.5L473.8 892.5L473.9 890.5L474.1 888.5L474.2 886.5L474.3 884.5L474.4 882.5L474.5 880.5L474.7 878.5L474.8 876.5L474.9 874.5L475.0 872.5L475.2 870.5L475.3 868.5L475.4 866.5L475.5 864.5L475.7 862.5L475.8 860.5L475.9 858.5L476.0 856.5L476.2 854.5L476.3 852.5L476.4 850.5L476.6 848.5L476.7 846.5L476.8 844.5L477.0 842.5L477.1 840.5L477.2 838.5L477.4 836.5L477.5 834.5L477.7 832.5L477.8 830.5L477.9 828.5L478.1 826.5L478.2 824.5L478.4 822.5L478.5 820.5L478.7 818.5L478.8 816.5L479.0 814.5L479.1 812.5L479.3 810.5L479.4 808.5L479.6 806.5L479.7 804.5L479.9 802.5L480.0 800.5L480.2 798.5L480.4 796.5L480.5 794.5L480.7 792.6L480.8 790.6L481.0 788.6L481.2 786.6L481.4 784.6L481.5 782.6L481.7 780.6L481.9 778.6L482.0 776.6L482.2 774.6L482.4 772.6L482.6 770.6L482.8 768.6L483.0 766.6L483.1 764.6L483.3 762.6L483.5 760.6L483.7 758.6L483.9 756.6L484.1 754.7L484.3 752.7L484.5 750.7L484.7 748.7L484.9 746.7L485.1 744.7L485.3 742.7L485.5 740.7L485.7 738.7L485.9 736.7L486.2 734.7L486.4 732.8L486.6 730.8L486.8 728.8L487.0 726.8L487.3 724.8L487.5 722.8L487.7 720.8L488.0 718.8L488.2 716.9L488.4 714.9L488.7 712.9L488.9 710.9L489.2 708.9L489.4 706.9L489.6 705.0L489.9 703.0L490.2 701.0L490.4 699.0L490.7 697.0L490.9 695.0L491.2 693.1L491.5 691.1L491.7 689.1L492.0 687.1L492.3 685.1L492.6 683.2L492.8 681.2L493.1 679.2L493.4 677.2L493.7 675.3L494.0 673.3L494.3 671.3L494.6 669.3L494.9 667.4L495.2 665.4L495.5 663.4L495.8 661.4L496.1 659.5L496.4 657.5L496.7 655.5L497.0 653.6L497.4 651.6L497.7 649.6L498.0 647.7L498.3 645.7L498.7 643.7L499.0 641.8L499.4 639.8L499.7 637.8L500.1 635.9L500.4 633.9L500.8 631.9L501.1 630.0L501.5 628.0L501.8 626.0L502.2 624.1L502.6 622.1L502.9 620.2L503.3 618.2L503.7 616.3L504.1 614.3L504.5 612.3L504.9 610.4L505.3 608.4L505.7 606.5L506.1 604.5L506.5 602.6L506.9 600.6L507.3 598.7L507.7 596.7L508.1 594.8L508.5 592.8L509.0 590.9L509.4 588.9L509.8 587.0L510.3 585.0L510.7 583.1L511.2 581.1L511.6 579.2L512.1 577.3L512.5 575.3L513.0 573.4L513.4 571.4L513.9 569.5L514.4 567.6L514.9 565.6L515.3 563.7L515.8 561.7L516.3 559.8L516.8 557.9L517.3 555.9L517.8 554.0L518.3 552.1L518.8 550.1L519.3 548.2L519.9 546.3L520.4 544.4L520.9 542.4L521.4 540.5L522.0 538.6L522.5 536.7L523.1 534.7L523.6 532.8L524.2 530.9L524.7 529.0L525.3 527.1L525.9 525.1L526.4 523.2L527.0 521.3L527.6 519.4L528.2 517.5L528.9 515.6L529.5 513.7L530.2 511.8L530.8 509.9L531.5 508.0L532.2 506.1L532.9 504.3L533.7 502.4L534.4 500.5L535.2 498.7L536.0 496.8L536.8 495.0L537.6 493.1L538.5 491.3L539.4 489.5L540.3 487.7L541.3 485.9L542.2 484.1L543.2 482.3L544.3 480.5L545.3 478.7L546.4 477.0L547.6 475.3L548.8 473.6L550.1 472.0L551.5 470.5L553.0 469.1L554.6 467.8L556.2 466.6L558.0 465.5L559.8 464.6L561.6 463.8L563.5 463.3L565.3 463.0L567.2 463.0L568.9 463.2L570.6 463.7L572.2 464.5L573.7 465.5L575.1 466.6L576.3 468.0L577.5 469.6L578.5 471.3L579.4 473.1L580.3 475.0L581.1 476.9L581.9 478.8L582.6 480.7L583.3 482.6L584.0 484.5L584.6 486.4L585.2 488.3L585.8 490.3L586.4 492.2L586.9 494.1L587.5 496.1L588.0 498.0L588.5 500.0L589.1 501.9L589.6 503.8L590.1 505.8L590.6 507.7L591.1 509.7L591.6 511.6L592.2 513.5L592.7 515.5L593.2 517.4L593.7 519.3L594.2 521.3L594.7 523.2L595.2 525.2L595.7 527.1L596.2 529.0L596.7 531.0L597.2 532.9L597.7 534.8L598.2 536.8L598.7 538.7L599.2 540.7L599.7 542.6L600.2 544.5L600.7 546.5L601.2 548.4L601.7 550.3L602.2 552.3L602.7 554.2L603.2 556.1L603.7 558.1L604.2 560.0L604.7 561.9L605.2 563.9L605.7 565.8L606.1 567.8L606.6 569.7L607.1 571.6L607.6 573.6L608.1 575.5L608.6 577.4L609.1 579.4L609.6 581.3L610.0 583.2L610.5 585.2L611.0 587.1L611.5 589.0L612.0 591.0L612.5 592.9L612.9 594.9L613.4 596.8L613.9 598.7L614.4 600.7L614.9 602.6L615.4 604.5L615.9 606.5L616.4 608.4L616.9 610.3L617.3 612.3L617.8 614.2L618.3 616.1L618.8 618.1L619.4 620.0L619.9 621.9L620.4 623.9L620.9 625.8L621.4 627.7L621.9 629.6L622.4 631.6L623.0 633.5L623.5 635.4L624.0 637.3L624.6 639.3L625.1 641.2L625.7 643.1L626.2 645.0L626.8 646.9L627.4 648.8L627.9 650.8L628.5 652.7L629.1 654.6L629.7 656.5L630.3 658.4L630.9 660.3L631.5 662.2L632.1 664.1L632.7 666.0L633.4 667.9L634.0 669.8L634.7 671.7L635.3 673.6L636.0 675.5L636.6 677.3L637.3 679.2L638.0 681.1L638.7 683.0L639.4 684.9L640.1 686.7L640.8 688.6L641.5 690.5L642.3 692.3L643.0 694.2L643.7 696.1L644.5 697.9L645.2 699.8L646.0 701.7L646.7 703.5L647.5 705.4L648.2 707.3L648.9 709.1L649.7 711.0L650.4 712.8L651.2 714.7L651.9 716.6L652.6 718.4L653.4 720.3L654.1 722.2L654.8 724.0L655.5 725.9L656.2 727.8L656.9 729.6L657.6 731.5L658.3 733.4L659.0 735.3L659.7 737.2L660.3 739.0L661.0 740.9L661.6 742.8L662.2 744.7L662.8 746.6L663.4 748.5L664.0 750.4L664.5 752.3L665.1 754.2L665.6 756.1L666.1 758.0L666.6 760.0L667.1 761.9L667.6 763.8L668.0 765.7L668.4 767.7L668.8 769.6L669.2 771.6L669.6 773.5L669.9 775.5L670.3 777.4L670.6 779.4L670.9 781.4L671.2 783.3L671.5 785.3L671.8 787.3L672.0 789.3L672.3 791.3L672.5 793.2L672.7 795.2L673.0 797.2L673.2 799.2L673.4 801.2L673.6 803.2L673.8 805.2L674.0 807.2L674.2 809.2L674.4 811.2L674.6 813.2L674.8 815.2L675.0 817.2L675.2 819.2L675.4 821.2L675.6 823.2L675.9 825.2L676.1 827.2L676.3 829.2L676.5 831.2L676.8 833.2L677.0 835.2L677.2 837.2L677.5 839.2L677.8 841.2L678.1 843.2L678.4 845.2L678.7 847.2L679.0 849.2L679.3 851.2L679.6 853.2L679.9 855.1L680.3 857.1L680.6 859.1L681.0 861.1L681.3 863.1L681.7 865.0L682.1 867.0L682.4 869.0L682.8 871.0L683.2 872.9L683.6 874.9L684.0 876.9L684.4 878.8L684.8 880.8L685.2 882.8L685.6 884.7L686.0 886.7L686.4 888.6L686.9 890.6L687.3 892.5L687.7 894.5L688.1 896.4L688.5 898.4L688.9 900.3L689.4 902.3L689.8 904.2L690.2 906.1L690.6 908.1L691.0 910.0L691.4 911.9L691.9 913.9L692.3 915.8L692.7 917.7L693.1 919.7L693.5 921.6L693.9 923.5L694.3 925.4L694.7 927.3L695.0 929.2L695.4 931.2L695.8 933.1L696.2 935.0L696.5 936.9L696.9 938.8L697.2 940.7L697.6 942.6L697.9 944.6L698.2 946.6L698.6 948.6L698.9 950.7L699.2 952.8L699.5 955.0L699.8 957.3L700.1 959.6L700.3 962.1L700.6 964.5L700.9 967.1L701.2 969.6L701.5 972.2L701.8 974.8L702.1 977.4L702.5 979.9L702.9 982.4L703.3 984.8L703.8 987.1L704.3 989.4L704.9 991.5L705.5 993.5L706.2 995.4L707.0 997.1L707.8 998.6L708.7 999.9L709.7 1001.1L710.8 1002.0L711.9 1002.6L713.2 1003.0L714.6 1003.2L716.0 1003.0L717.6 1002.6L719.3 1001.9L721.0 1001.1L722.8 1000.2L724.6 999.2L726.5 998.2L728.4 997.2L730.3 996.3L732.2 995.6L734.0 995.1L735.8 994.9L737.6 994.9L739.3 995.3L740.9 996.0L742.5 997.0L744.0 998.1L745.4 999.5L746.7 1001.0L748.0 1002.7L749.3 1004.4L750.4 1006.2L751.5 1008.0L752.5 1009.9L753.5 1011.7L754.4 1013.6L755.2 1015.5L756.0 1017.4L756.8 1019.3L757.5 1021.2L758.2 1023.2L758.8 1025.1L759.4 1027.1L760.0 1029.0L760.6 1031.0L761.1 1032.9L761.7 1034.9L762.2 1036.9L762.8 1038.8L763.3 1040.8L763.9 1042.8L764.4 1044.7L765.0 1046.7L765.6 1048.6L766.1 1050.5L766.7 1052.5L767.3 1054.4L767.9 1056.3L768.6 1058.2L769.2 1060.1L769.8 1062.0L770.4 1063.9L771.0 1065.8L771.7 1067.6L772.3 1069.5L772.9 1071.4L773.6 1073.2L774.2 1075.1L774.8 1076.9L775.4 1078.7L776.1 1080.5L776.7 1082.3L777.3 1084.1L777.9 1085.9L778.5 1087.7L779.1 1089.5L779.7 1091.3L780.3 1093.1L780.9 1094.9L781.6 1096.7L782.2 1098.6L782.8 1100.5L783.5 1102.4L784.1 1104.3L784.8 1106.3L785.5 1108.3L786.2 1110.4L786.9 1112.5L787.7 1114.7L788.4 1116.9L789.2 1119.2L790.0 1121.5L790.9 1123.9L791.7 1126.2L792.6 1128.4L793.5 1130.5L794.4 1132.5L795.3 1134.2L796.3 1135.7L797.2 1136.9L798.2 1137.7L799.2 1138.2L800.2 1138.3L801.2 1137.9L802.2 1137.1L803.2 1136.0L804.1 1134.5L805.1 1132.8L806.1 1130.9L807.0 1128.9L807.9 1126.7L808.7 1124.4L809.5 1122.2L810.2 1119.9L810.9 1117.7L811.6 1115.5L812.2 1113.4L812.7 1111.3L813.2 1109.2L813.7 1107.2L814.1 1105.2L814.5 1103.2L814.9 1101.2L815.3 1099.3L815.6 1097.3L815.9 1095.4L816.2 1093.5L816.5 1091.6L816.8 1089.7L817.1 1087.7L817.3 1085.8L817.6 1083.9L817.9 1082.0L818.2 1080.0L818.4 1078.1L818.7 1076.1L819.0 1074.2L819.3 1072.2L819.5 1070.3L819.8 1068.3L820.1 1066.3L820.4 1064.3L820.7 1062.4L820.9 1060.4L821.2 1058.4L821.5 1056.4L821.7 1054.4L822.0 1052.5L822.3 1050.5L822.5 1048.5L822.8 1046.5L823.0 1044.5L823.3 1042.5L823.6 1040.6L823.8 1038.6L824.1 1036.6L824.3 1034.6L824.6 1032.6L824.8 1030.6L825.1 1028.7L825.3 1026.7L825.6 1024.7L825.8 1022.7L826.1 1020.7L826.3 1018.7L826.6 1016.8L826.9 1014.8L827.1 1012.8L827.4 1010.8L827.6 1008.8L827.9 1006.8L828.1 1004.8L828.4 1002.9L828.6 1000.9L828.9 998.9L829.2 996.9L829.4 994.9L829.7 992.9L830.0 991.0L830.2 989.0L830.5 987.0L830.8 985.0L831.0 983.0L831.3 981.1L831.6 979.1L831.9 977.1L832.2 975.1L832.4 973.1L832.7 971.2L833.0 969.2L833.3 967.2L833.6 965.2L833.9 963.3L834.2 961.3L834.5 959.3L834.9 957.3L835.2 955.4L835.5 953.4L835.8 951.4L836.1 949.5L836.5 947.5L836.8 945.5L837.2 943.5L837.5 941.6L837.9 939.6L838.2 937.7L838.6 935.7L839.0 933.7L839.3 931.8L839.7 929.8L840.1 927.8L840.5 925.9L840.9 923.9L841.3 922.0L841.7 920.0L842.1 918.1L842.5 916.1L842.9 914.2L843.4 912.2L843.8 910.3L844.3 908.3L844.7 906.4L845.2 904.4L845.6 902.5L846.1 900.5L846.6 898.6L847.1 896.7L847.6 894.7L848.1 892.8L848.6 890.8L849.1 888.9L849.6 887.0L850.2 885.1L850.7 883.1L851.3 881.2L851.8 879.3L852.4 877.4L853.0 875.5L853.6 873.6L854.2 871.7L854.8 869.8L855.5 867.9L856.1 866.0L856.8 864.1L857.4 862.2L858.1 860.3L858.8 858.4L859.5 856.5L860.2 854.7L860.9 852.8L861.7 851.0L862.4 849.1L863.2 847.3L864.0 845.4L864.8 843.6L865.6 841.7L866.4 839.9L867.3 838.1L868.1 836.3L869.0 834.5L869.8 832.6L870.7 830.8L871.6 829.0L872.5 827.2L873.4 825.4L874.2 823.6L875.1 821.8L876.0 820.0L876.9 818.2L877.8 816.4L878.7 814.6L879.5 812.8L880.4 811.0L881.2 809.2L882.1 807.4L882.9 805.5L883.8 803.7L884.6 801.9L885.4 800.1L886.2 798.3L886.9 796.4L887.7 794.6L888.4 792.7L889.2 790.9L889.8 789.0L890.5 787.2L891.2 785.3L891.8 783.4L892.4 781.5L893.0 779.6L893.5 777.7L894.1 775.8L894.5 773.9L895.0 771.9L895.4 770.0L895.9 768.0L896.3 766.1L896.6 764.1L897.0 762.1L897.3 760.2L897.7 758.2L898.0 756.2L898.3 754.2L898.7 752.2L899.0 750.2L899.3 748.3L899.6 746.3L900.0 744.3L900.3 742.3L900.7 740.3L901.1 738.4L901.4 736.4L901.8 734.4L902.2 732.4L902.6 730.5L903.0 728.5L903.5 726.5L903.9 724.6L904.3 722.6L904.7 720.7L905.1 718.7L905.5 716.7L906.0 714.8L906.4 712.8L906.8 710.9L907.2 708.9L907.6 706.9L908.0 705.0L908.3 703.0L908.7 701.1L909.0 699.1L909.4 697.1L909.7 695.2L910.0 693.2L910.3 691.2L910.6 689.3L910.9 687.3L911.2 685.3L911.4 683.3L911.7 681.4L911.9 679.4L912.2 677.4L912.4 675.4L912.6 673.4L912.8 671.5L913.0 669.5L913.2 667.5L913.4 665.5L913.6 663.5L913.8 661.5L914.0 659.6L914.2 657.6L914.3 655.6L914.5 653.6L914.7 651.6L914.8 649.6L915.0 647.6L915.1 645.6L915.3 643.6L915.4 641.6L915.6 639.7L915.7 637.7L915.9 635.7L916.0 633.7L916.2 631.7L916.3 629.7L916.5 627.7L916.6 625.7L916.7 623.7L916.9 621.7L917.0 619.7L917.2 617.7L917.3 615.7L917.4 613.7L917.5 611.7L917.7 609.7L917.8 607.7L917.9 605.7L918.0 603.7L918.2 601.7L918.3 599.7L918.4 597.7L918.5 595.7L918.7 593.7L918.8 591.7L918.9 589.7L919.0 587.7L919.1 585.7L919.2 583.7L919.3 581.7L919.5 579.7L919.6 577.7L919.7 575.7L919.8 573.7L919.9 571.7L920.0 569.7L920.1 567.7L920.2 565.7L920.3 563.7L920.4 561.7L920.5 559.7L920.6 557.7L920.8 555.7L920.9 553.7L921.0 551.7L921.1 549.7L921.2 547.7L921.3 545.7L921.4 543.7L921.5 541.7L921.6 539.7L921.7 537.7L921.8 535.7L921.9 533.7L922.0 531.7L922.1 529.7L922.2 527.7L922.3 525.7L922.4 523.7L922.5 521.7L922.6 519.7L922.8 517.7L922.9 515.7L923.0 513.7L923.1 511.7L923.2 509.7L923.3 507.7L923.4 505.8L923.5 503.8L923.6 501.8L923.7 499.8L923.9 497.8L924.0 495.8L924.1 493.8L924.2 491.8L924.3 489.8L924.4 487.8L924.5 485.8L924.7 483.9L924.8 481.9L924.9 479.9L925.0 477.9L925.1 475.9L925.3 473.9L925.4 471.9L925.5 469.9L925.6 467.9L925.7 466.0L925.9 464.0L926.0 462.0L926.1 460.0L926.2 458.0L926.4 456.0L926.5 454.0L926.6 452.0L926.8 450.0L926.9 448.1L927.0 446.1L927.2 444.1L927.3 442.1L927.4 440.1L927.6 438.1L927.7 436.1L927.8 434.1L928.0 432.1L928.1 430.2L928.3 428.2L928.4 426.2L928.6 424.2L928.7 422.2L928.9 420.2L929.0 418.2L929.2 416.2L929.3 414.2L929.5 412.2L929.6 410.2L929.8 408.3L929.9 406.3L930.1 404.3L930.2 402.3L930.4 400.3L930.6 398.3L930.7 396.3L930.9 394.3L931.1 392.3L931.2 390.3L931.4 388.3L931.6 386.3L931.8 384.3L931.9 382.3L932.1 380.3L932.3 378.3L932.5 376.3L932.6 374.3L932.8 372.3L933.0 370.3L933.2 368.3L933.4 366.3L933.6 364.3L933.8 362.3L934.0 360.3L934.2 358.3L934.3 356.3L934.5 354.3L934.7 352.3L935.0 350.3L935.2 348.3L935.4 346.3L935.6 344.3L935.8 342.2L936.0 340.2L936.2 338.2L936.4 336.2L936.6 334.2L936.9 332.2L937.1 330.2L937.3 328.1L937.5 326.1L937.8 324.1L938.0 322.1L938.2 320.1L938.4 318.1L938.7 316.1L938.9 314.0L939.1 312.0L939.4 310.0L939.6 308.0L939.9 306.0L940.1 304.0L940.3 302.1L940.6 300.1L940.8 298.1L941.0 296.2L941.2 294.2L941.5 292.3L941.7 290.3L941.9 288.4L942.1 286.5L942.3 284.6L942.6 282.7L942.8 280.8L943.0 278.9L943.2 277.1L943.4 275.2L943.6 273.4L943.8 271.6L944.0 269.8L944.2 268.0L944.4 266.1L944.6 264.3L944.8 262.5L945.0 260.6L945.2 258.8L945.4 256.9L945.7 255.0L945.9 253.1L946.2 251.2L946.5 249.2L946.8 247.2L947.1 245.2L947.4 243.1L947.8 241.0L948.1 238.8L948.5 236.6L948.9 234.3L949.4 232.0L949.9 229.7L950.3 227.2L950.9 224.7L951.4 222.2L952.0 219.7L952.6 217.1L953.2 214.5L953.8 212.0L954.5 209.5L955.2 207.1L955.8 204.8L956.5 202.5L957.3 200.5L958.0 198.5L958.7 196.7L959.4 195.1L960.2 193.7L960.9 192.5L961.7 191.6L962.4 190.9L963.1 190.5L963.9 190.4L964.6 190.6L965.3 191.1L966.0 191.9L966.7 192.9L967.4 194.1L968.1 195.6L968.8 197.2L969.5 199.1L970.2 201.0L970.9 203.2L971.5 205.4L972.2 207.7L972.8 210.2L973.5 212.6L974.1 215.2L974.8 217.7L975.4 220.2L976.0 222.8L976.6 225.3L977.3 227.7L977.9 230.1L978.5 232.4L979.1 234.6L979.7 236.9L980.3 239.0L980.8 241.1L981.4 243.2L982.0 245.2L982.6 247.2L983.1 249.2L983.7 251.1L984.2 253.1L984.8 254.9L985.4 256.8L985.9 258.7L986.4 260.5L987.0 262.3L987.5 264.1L988.1 266.0L988.6 267.8L989.1 269.6L989.7 271.4L990.2 273.2L990.7 275.0L991.2 276.9L991.8 278.7L992.3 280.6L992.8 282.4L993.3 284.2L993.8 286.1L994.3 288.0L994.8 289.8L995.3 291.7L995.9 293.6L996.4 295.4L996.9 297.3L997.4 299.2L997.9 301.1L998.4 303.0L998.8 304.9L999.3 306.8L999.8 308.7L1000.3 310.6L1000.8 312.5L1001.3 314.4L1001.8 316.3L1002.3 318.2L1002.8 320.2L1003.3 322.1L1003.7 324.0L1004.2 326.0L1004.7 327.9L1005.2 329.8L1005.7 331.8L1006.1 333.7L1006.6 335.6L1007.1 337.6L1007.6 339.5L1008.0 341.5L1008.5 343.4L1009.0 345.4L1009.5 347.3L1009.9 349.3L1010.4 351.2L1010.9 353.2L1011.4 355.2L1011.8 357.1L1012.3 359.1L1012.8 361.0L1013.2 363.0L1013.7 365.0L1014.2 366.9L1014.6 368.9L1015.1 370.9L1015.6 372.8L1016.0 374.8L1016.5 376.8L1017.0 378.8L1017.4 380.7L1017.9 382.7L1018.4 384.7L1018.9 386.6L1019.3 388.6L1019.8 390.6L1020.3 392.5L1020.7 394.5L1021.2 396.5L1021.7 398.4L1022.1 400.4L1022.6 402.4L1023.1 404.3L1023.6 406.3L1024.0 408.3L1024.5 410.2L1025.0 412.2L1025.5 414.2L1025.9 416.1L1026.4 418.1L1026.9 420.0L1027.4 422.0L1027.8 423.9L1028.3 425.9L1028.8 427.8L1029.3 429.8L1029.8 431.7L1030.3 433.7L1030.7 435.6L1031.2 437.6L1031.7 439.5L1032.2 441.4L1032.7 443.4L1033.2 445.3L1033.7 447.2L1034.2 449.1L1034.7 451.1L1035.2 453.0L1035.7 454.9L1036.2 456.8L1036.8 458.7L1037.3 460.6L1037.8 462.5L1038.4 464.5L1038.9 466.4L1039.4 468.3L1040.0 470.2L1040.6 472.0L1041.1 473.9L1041.7 475.8L1042.3 477.7L1042.9 479.6L1043.5 481.5L1044.1 483.4L1044.7 485.2L1045.4 487.1L1046.0 489.0L1046.7 490.9L1047.3 492.7L1048.0 494.6L1048.7 496.5L1049.4 498.3L1050.1 500.2L1050.9 502.0L1051.6 503.9L1052.3 505.7L1053.1 507.6L1053.9 509.4L1054.7 511.2L1055.5 513.1L1056.3 514.9L1057.2 516.7L1058.0 518.6L1058.9 520.4L1059.8 522.2L1060.7 524.0L1061.6 525.9L1062.5 527.7L1063.5 529.4L1064.5 531.2L1065.6 532.9L1066.7 534.6L1067.9 536.3L1069.1 537.9L1070.4 539.4L1071.8 540.9L1073.2 542.3L1074.8 543.6L1076.4 544.9L1078.1 546.1L1079.8 547.1L1081.6 548.1L1083.5 549.0L1085.4 549.8L1087.4 550.5L1089.4 551.1L1091.4 551.6L1093.4 552.0L1095.4 552.2L1097.4 552.4L1099.4 552.4L1101.5 552.3L1103.4 552.0L1105.4 551.7L1107.3 551.2L1109.3 550.7L1111.1 550.0L1113.0 549.2L1114.8 548.3L1116.5 547.4L1118.2 546.3L1119.9 545.2L1121.5 544.0L1123.0 542.7L1124.4 541.3L1125.8 539.9L1127.1 538.4L1128.4 536.9L1129.6 535.3L1130.8 533.7L1131.9 532.0L1133.0 530.3L1134.0 528.6L1135.1 526.8L1136.1 525.1L1137.1 523.3L1138.1 521.6L1139.2 519.8L1140.2 518.1L1141.3 516.4L1142.4 514.6L1143.5 513.0L1144.6 511.3L1145.7 509.6L1146.8 508.0L1148.0 506.4L1149.2 504.7L1150.3 503.1L1151.5 501.5L1152.7 499.9L1153.9 498.3L1155.1 496.7L1156.3 495.1L1157.4 493.5L1158.6 491.9L1159.8 490.3L1161.0 488.7L1162.2 487.1L1163.4 485.5L1164.5 483.8L1165.7 482.2L1166.9 480.6L1168.0 479.0L1169.2 477.4L1170.4 475.7L1171.5 474.1L1172.7 472.5L1173.8 470.9L1175.0 469.2L1176.1 467.6L1177.3 465.9L1178.4 464.3L1179.6 462.7L1180.7 461.0L1181.8 459.4L1183.0 457.7L1184.1 456.1L1185.2 454.4L1186.3 452.8L1187.5 451.1L1188.6 449.5L1189.7 447.8L1190.8 446.1L1191.9 444.5L1193.0 442.8L1194.1 441.1L1195.2 439.5L1196.3 437.8L1197.4 436.1L1198.5 434.4L1199.5 432.7L1200.6 431.1L1201.7 429.4L1202.8 427.7L1203.8 426.0L1204.9 424.3L1206.0 422.6L1207.0 420.9L1208.1 419.2L1209.1 417.5L1210.2 415.8L1211.2 414.1L1212.2 412.4L1213.3 410.6L1214.3 408.9L1215.3 407.2L1216.3 405.5L1217.4 403.8L1218.4 402.0L1219.4 400.3L1220.4 398.6L1221.4 396.9L1222.4 395.1L1223.4 393.4L1224.4 391.6L1225.4 389.9L1226.4 388.2L1227.4 386.5L1228.4 384.8L1229.5 383.1L1230.6 381.4L1231.7 379.8L1232.8 378.2L1234.0 376.6L1235.2 375.0L1236.4 373.4L1237.7 371.9L1239.0 370.4L1240.3 369.0L1241.7 367.6L1243.2 366.2L1244.7 364.9L1246.3 363.6L1247.9 362.4L1249.6 361.2L1251.3 360.1L1253.1 359.0L1254.9 358.0L1256.8 357.1L1258.7 356.3L1260.6 355.6L1262.6 354.9L1264.5 354.3L1266.5 353.9L1268.4 353.5L1270.4 353.3L1272.4 353.2L1274.3 353.2L1276.2 353.3L1278.2 353.6L1280.0 354.0L1281.9 354.5L1283.7 355.2L1285.4 356.0L1287.2 356.9L1288.8 358.0L1290.4 359.1L1292.0 360.3L1293.5 361.6L1294.9 363.0L1296.3 364.4L1297.6 365.9L1298.9 367.4L1300.1 368.9L1301.2 370.5L1302.4 372.2L1303.4 373.9L1304.5 375.6L1305.5 377.3L1306.5 379.0L1307.4 380.8L1308.4 382.6L1309.3 384.4L1310.2 386.2L1311.1 388.0L1312.0 389.8L1312.9 391.7L1313.7 393.5L1314.6 395.3L1315.5 397.1L1316.3 398.9L1317.1 400.8L1318.0 402.6L1318.8 404.4L1319.6 406.3L1320.4 408.1L1321.3 409.9L1322.1 411.8L1322.8 413.6L1323.6 415.5L1324.4 417.3L1325.2 419.2L1325.9 421.0L1326.7 422.9L1327.5 424.7L1328.2 426.6L1328.9 428.5L1329.7 430.3L1330.4 432.2L1331.1 434.1L1331.8 435.9L1332.5 437.8L1333.2 439.7L1333.9 441.6L1334.6 443.4L1335.3 445.3L1336.0 447.2L1336.6 449.1L1337.3 451.0L1338.0 452.8L1338.6 454.7L1339.3 456.6L1339.9 458.5L1340.5 460.4L1341.2 462.3L1341.8 464.2L1342.4 466.1L1343.0 468.0L1343.6 469.9L1344.2 471.8L1344.8 473.7L1345.4 475.6L1346.0 477.5L1346.6 479.4L1347.2 481.3L1347.7 483.3L1348.3 485.2L1348.9 487.1L1349.4 489.0L1350.0 490.9L1350.6 492.8L1351.1 494.8L1351.6 496.7L1352.2 498.6L1352.7 500.5L1353.2 502.4L1353.8 504.4L1354.3 506.3L1354.8 508.2L1355.3 510.2L1355.8 512.1L1356.3 514.0L1356.8 516.0L1357.3 517.9L1357.8 519.8L1358.3 521.8L1358.8 523.7L1359.3 525.6L1359.8 527.6L1360.3 529.5L1360.7 531.5L1361.2 533.4L1361.7 535.3L1362.1 537.3L1362.6 539.2L1363.1 541.2L1363.5 543.1L1364.0 545.1L1364.4 547.0L1364.9 549.0L1365.3 550.9L1365.8 552.9L1366.2 554.8L1366.7 556.8L1367.1 558.7L1367.5 560.7L1368.0 562.6L1368.4 564.6L1368.8 566.5L1369.3 568.5L1369.7 570.4L1370.1 572.4L1370.5 574.3L1370.9 576.3L1371.4 578.3L1371.8 580.2L1372.2 582.2L1372.6 584.1L1373.0 586.1L1373.4 588.0L1373.8 590.0L1374.3 592.0L1374.7 593.9L1375.1 595.9L1375.5 597.8L1375.9 599.8L1376.3 601.8L1376.7 603.7L1377.1 605.7L1377.5 607.6L1377.9 609.6L1378.3 611.6L1378.7 613.5L1379.1 615.5L1379.5 617.4L1379.9 619.4L1380.3 621.4L1380.7 623.3L1381.0 625.3L1381.4 627.2L1381.8 629.2L1382.2 631.2L1382.6 633.1L1383.0 635.1L1383.4 637.0L1383.8 639.0L1384.1 641.0L1384.5 642.9L1384.9 644.9L1385.3 646.9L1385.7 648.8L1386.1 650.8L1386.4 652.8L1386.8 654.7L1387.2 656.7L1387.6 658.6L1387.9 660.6L1388.3 662.6L1388.7 664.5L1389.1 666.5L1389.4 668.5L1389.8 670.4L1390.2 672.4L1390.6 674.4L1390.9 676.3L1391.3 678.3L1391.7 680.2L1392.0 682.2L1392.4 684.2L1392.8 686.1L1393.1 688.1L1393.5 690.1L1393.9 692.0L1394.2 694.0L1394.6 696.0L1395.0 697.9L1395.3 699.9L1395.7 701.9L1396.1 703.8L1396.4 705.8L1396.8 707.8L1397.1 709.7L1397.5 711.7L1397.9 713.7L1398.2 715.6L1398.6 717.6L1398.9 719.6L1399.3 721.5L1399.7 723.5L1400.0 725.5L1400.4 727.4L1400.7 729.4L1401.1 731.4L1401.4 733.3L1401.8 735.3L1402.1 737.3L1402.5 739.2L1402.9 741.2L1403.2 743.2L1403.6 745.1L1403.9 747.1L1404.3 749.1L1404.6 751.0L1405.0 753.0L1405.3 755.0L1405.7 757.0L1406.0 758.9L1406.4 760.9L1406.7 762.9L1407.1 764.8L1407.4 766.8L1407.8 768.8L1408.1 770.7L1408.5 772.7L1408.8 774.7L1409.2 776.6L1409.5 778.6L1409.8 780.6L1410.2 782.5L1410.5 784.5L1410.9 786.5L1411.2 788.5L1411.6 790.4L1411.9 792.4L1412.3 794.4L1412.6 796.3L1413.0 798.3L1413.3 800.3L1413.7 802.2L1414.0 804.2L1414.3 806.2L1414.7 808.1L1415.0 810.1L1415.4 812.1L1415.7 814.1L1416.1 816.0L1416.4 818.0L1416.8 820.0L1417.1 821.9L1417.4 823.9L1417.8 825.9L1418.1 827.8L1418.5 829.8L1418.8 831.8L1419.2 833.7L1419.5 835.7L1419.8 837.7L1420.2 839.7L1420.5 841.6L1420.9 843.6L1421.2 845.6L1421.6 847.5L1421.9 849.5L1422.3 851.5L1422.6 853.4L1422.9 855.4L1423.3 857.4L1423.6 859.3L1424.0 861.3L1424.3 863.3L1424.7 865.3L1425.0 867.2L1425.4 869.2L1425.7 871.2L1426.1 873.1L1426.4 875.1L1426.7 877.1L1427.1 879.0L1427.4 881.0L1427.8 883.0L1428.1 884.9L1428.5 886.9L1428.8 888.9L1429.2 890.9L1429.5 892.8L1429.9 894.8L1430.2 896.8L1430.6 898.7L1430.9 900.7L1431.3 902.7L1431.6 904.6L1432.0 906.6L1432.3 908.6L1432.7 910.5L1433.0 912.5L1433.4 914.5L1433.7 916.4L1434.1 918.4L1434.4 920.4L1434.8 922.3L1435.1 924.3L1435.5 926.3L1435.8 928.3L1436.2 930.2L1436.6 932.2L1436.9 934.2L1437.3 936.1L1437.6 938.1L1438.0 940.1L1438.3 942.0L1438.7 944.0L1439.1 946.0L1439.4 947.9L1439.8 949.9L1440.1 951.9L1440.5 953.8L1440.9 955.8L1441.2 957.8L1441.6 959.7L1441.9 961.7L1442.3 963.7L1442.7 965.6L1443.0 967.6L1443.4 969.6L1443.8 971.5L1444.1 973.5L1444.5 975.5L1444.9 977.4L1445.2 979.4L1445.6 981.4L1446.0 983.3L1446.3 985.3L1446.7 987.2L1447.1 989.2L1447.5 991.2L1447.8 993.1L1448.2 995.1L1448.6 997.1L1449.0 999.0L1449.3 1001.0L1449.7 1003.0L1450.1 1004.9L1450.5 1006.9L1450.8 1008.9L1451.2 1010.8L1451.6 1012.8L1452.0 1014.7L1452.4 1016.7L1452.8 1018.7L1453.1 1020.6L1453.5 1022.6L1453.9 1024.6L1454.3 1026.5L1454.7 1028.5L1455.1 1030.5L1455.5 1032.4L1455.9 1034.4L1456.2 1036.3L1456.6 1038.3L1457.0 1040.3L1457.4 1042.2L1457.8 1044.2L1458.2 1046.1L1458.6 1048.1L1459.0 1050.1L1459.4 1052.0L1459.8 1054.0L1460.2 1055.9L1460.6 1057.9L1461.0 1059.9L1461.4 1061.8L1461.8 1063.8L1462.2 1065.7L1462.6 1067.7L1463.0 1069.7L1463.4 1071.6L1463.8 1073.6L1464.3 1075.5L1464.7 1077.5L1465.1 1079.5L1465.5 1081.4L1465.9 1083.4L1466.3 1085.3L1466.7 1087.3L1467.2 1089.2L1467.6 1091.2L1468.0 1093.2L1468.4 1095.1L1468.9 1097.1L1469.3 1099.0L1469.7 1101.0L1470.1 1102.9L1470.6 1104.9L1471.0 1106.8L1471.4 1108.8L1471.9 1110.8L1472.3 1112.7L1472.8 1114.7L1473.2 1116.6L1473.6 1118.6L1474.1 1120.5L1474.5 1122.5L1475.0 1124.4L1475.5 1126.4L1475.9 1128.3L1476.4 1130.3L1476.8 1132.2L1477.3 1134.1L1477.8 1136.1L1478.2 1138.0L1478.7 1140.0L1479.2 1141.9L1479.7 1143.9L1480.1 1145.8L1480.6 1147.7L1481.1 1149.7L1481.6 1151.6L1482.1 1153.6L1482.6 1155.5L1483.1 1157.4L1483.6 1159.4L1484.1 1161.3L1484.6 1163.2L1485.2 1165.2L1485.7 1167.1L1486.2 1169.0L1486.7 1170.9L1487.3 1172.9L1487.8 1174.8L1488.3 1176.7L1488.9 1178.6L1489.4 1180.6L1490.0 1182.5L1490.5 1184.4L1491.1 1186.3L1491.7 1188.2L1492.2 1190.1L1492.8 1192.1L1493.4 1194.0L1494.0 1195.9L1494.5 1197.8L1495.1 1199.7L1495.7 1201.6L1496.3 1203.5L1496.9 1205.4L1497.5 1207.3L1498.2 1209.2L1498.8 1211.1L1499.4 1213.0L1500.0 1214.9L1500.7 1216.8L1501.3 1218.7L1502.0 1220.6L1502.6 1222.4L1503.3 1224.3L1503.9 1226.2L1504.6 1228.1L1505.3 1230.0L1506.0 1231.9L1506.7 1233.7L1507.3 1235.6L1508.0 1237.5L1508.8 1239.4L1509.5 1241.2L1510.2 1243.1L1510.9 1244.9L1511.7 1246.8L1512.4 1248.7L1513.2 1250.5L1513.9 1252.3L1514.7 1254.2L1515.5 1256.0L1516.3 1257.8L1517.1 1259.7L1517.9 1261.5L1518.7 1263.3L1519.6 1265.1L1520.4 1266.9L1521.3 1268.7L1522.2 1270.5L1523.1 1272.3L1524.0 1274.1L1524.9 1275.8L1525.8 1277.6L1526.8 1279.3L1527.7 1281.1L1528.7 1282.8L1529.7 1284.6L1530.7 1286.3L1531.8 1288.0L1532.8 1289.7L1533.9 1291.4L1535.0 1293.1L1536.1 1294.7L1537.2 1296.4L1538.3 1298.0L1539.5 1299.7L1540.6 1301.3L1541.8 1302.9L1543.0 1304.6L1544.3 1306.1L1545.5 1307.7L1546.8 1309.3L1548.1 1310.9L1549.4 1312.4L1550.7 1313.9L1552.0 1315.4L1553.4 1316.9L1554.8 1318.4L1556.2 1319.9L1557.6 1321.3L1559.0 1322.7L1560.4 1324.1L1561.9 1325.5L1563.4 1326.9L1564.8 1328.3L1566.4 1329.6L1567.9 1330.9L1569.4 1332.2L1571.0 1333.4L1572.5 1334.7L1574.1 1335.9L1575.7 1337.1L1577.3 1338.3L1579.0 1339.4L1580.6 1340.5L1582.3 1341.6L1583.9 1342.7L1585.6 1343.8L1587.3 1344.8L1589.0 1345.8L1590.8 1346.7L1592.5 1347.7L1594.3 1348.6L1596.0 1349.5L1597.8 1350.4L1599.6 1351.3L1601.4 1352.2L1603.2 1353.0L1605.0 1353.8L1606.8 1354.6L1608.7 1355.4L1610.5 1356.1L1612.4 1356.9L1614.2 1357.6L1616.1 1358.4L1617.9 1359.1L1619.8 1359.8L1621.7 1360.4L1623.6 1361.1L1625.5 1361.8L1627.4 1362.4L1629.3 1363.0L1631.2 1363.7L1633.1 1364.3L1635.0 1364.9L1636.9 1365.5L1638.9 1366.1L1640.8 1366.7L1642.7 1367.3L1644.6 1367.9L1646.6 1368.4L1648.5 1369.0L1650.4 1369.6L1652.3 1370.2L1654.3 1370.7L1656.2 1371.3L1658.1 1371.8L1660.0 1372.4L1662.0 1372.9L1663.9 1373.5L1665.8 1374.0L1667.8 1374.6L1669.7 1375.1L1671.6 1375.6L1673.5 1376.2L1675.5 1376.7L1677.4 1377.2L1679.3 1377.7L1681.3 1378.2L1683.2 1378.8L1685.1 1379.3L1687.1 1379.8L1689.0 1380.3L1690.9 1380.8L1692.9 1381.3L1694.8 1381.8L1696.7 1382.3L1698.7 1382.7L1700.6 1383.2L1702.5 1383.7L1704.5 1384.2L1706.4 1384.7L1708.4 1385.1L1710.3 1385.6L1712.2 1386.1L1714.2 1386.5L1716.1 1387.0L1718.1 1387.4L1720.0 1387.9L1721.9 1388.3L1723.9 1388.8L1725.8 1389.2L1727.8 1389.7L1729.7 1390.1L1731.7 1390.5L1733.6 1390.9L1735.6 1391.4L1737.5 1391.8L1739.5 1392.2L1741.4 1392.6L1743.4 1393.0L1745.3 1393.4L1747.3 1393.9L1749.2 1394.3L1751.2 1394.7L1753.1 1395.1L1755.1 1395.4L1757.0 1395.8L1759.0 1396.2L1761.0 1396.6L1762.9 1397.0L1764.9 1397.4L1766.8 1397.7L1768.8 1398.1L1770.8 1398.5L1772.7 1398.8L1774.7 1399.2L1776.7 1399.6L1778.6 1399.9L1780.6 1400.3L1782.6 1400.6L1784.5 1401.0L1786.5 1401.3L1788.5 1401.7L1790.5 1402.0L1792.4 1402.4L1794.4 1402.7L1796.4 1403.1L1798.3 1403.4L1800.3 1403.8L1802.3 1404.1L1804.3 1404.4L1806.2 1404.8L1808.2 1405.1L1810.2 1405.4L1812.2 1405.8L1814.1 1406.1L1816.1 1406.5L1818.1 1406.8L1820.1 1407.1L1822.0 1407.5L1824.0 1407.8L1826.0 1408.1L1828.0 1408.5L1829.9 1408.8L1831.9 1409.1L1833.9 1409.5L1835.9 1409.8L1837.8 1410.2L1839.8 1410.5L1841.8 1410.9L1843.7 1411.2L1845.7 1411.5L1847.7 1411.9L1849.7 1412.2L1851.6 1412.6L1853.6 1412.9L1855.6 1413.3L1857.5 1413.6L1859.5 1414.0L1861.5 1414.3L1863.4 1414.7L1865.4 1415.0L1867.4 1415.4L1869.3 1415.7L1871.3 1416.1L1873.3 1416.5L1875.2 1416.8L1877.2 1417.2L1879.2 1417.5L1881.1 1417.9L1883.1 1418.2L1885.1 1418.6L1887.0 1419.0L1889.0 1419.3L1891.0 1419.7L1892.9 1420.0L1894.9 1420.4L1896.9 1420.8L1898.8 1421.1L1900.8 1421.5L1902.8 1421.9L1904.7 1422.2L1906.7 1422.6L1908.7 1422.9L1910.6 1423.3L1912.6 1423.7L1914.6 1424.0L1916.5 1424.4L1918.5 1424.8L1920.5 1425.1L1922.4 1425.5L1924.4 1425.9L1926.4 1426.2L1928.3 1426.6L1930.3 1427.0L1932.2 1427.3L1934.2 1427.7L1936.2 1428.1L1938.1 1428.4L1940.1 1428.8L1942.1 1429.1L1944.0 1429.5L1946.0 1429.9L1948.0 1430.2L1949.9 1430.6L1951.9 1431.0L1953.9 1431.3L1955.8 1431.7L1957.8 1432.1L1959.8 1432.4L1961.7 1432.8L1963.7 1433.1L1965.7 1433.5L1967.6 1433.9L1969.6 1434.2L1971.5 1434.6L1973.5 1434.9L1975.5 1435.3L1977.4 1435.7L1979.4 1436.0L1981.4 1436.4L1983.3 1436.7L1985.3 1437.1L1987.3 1437.4L1989.2 1437.8L1991.2 1438.2L1993.2 1438.5L1995.2 1438.9L1997.1 1439.2L1999.1 1439.6L2001.1 1439.9L2003.0 1440.3L2005.0 1440.6L2007.0 1441.0L2008.9 1441.3L2010.9 1441.7L2012.9 1442.0L2014.8 1442.4L2016.8 1442.7L2018.8 1443.0L2020.8 1443.4L2022.7 1443.7L2024.7 1444.1L2026.7 1444.4L2028.7 1444.7L2030.6 1445.1L2032.6 1445.4L2034.6 1445.8L2036.5 1446.1" stroke="#2b3ba2" stroke-width="8.0"/>
</g>
<rect x="297.5" y="53.3" width="1739.0" height="1554.7" fill="none" stroke="#000" stroke-width="8.5"/>
<text class="t" transform="translate(260.5 152.4) scale(0.920 1)" text-anchor="end" font-size="67.0" letter-spacing="6.5">0.8</text>
<text class="t" transform="translate(260.5 479.7) scale(0.920 1)" text-anchor="end" font-size="67.0" letter-spacing="6.5">0.6</text>
<text class="t" transform="translate(260.5 807.1) scale(0.920 1)" text-anchor="end" font-size="67.0" letter-spacing="6.5">0.4</text>
<text class="t" transform="translate(260.5 1134.4) scale(0.920 1)" text-anchor="end" font-size="67.0" letter-spacing="6.5">0.2</text>
<text class="t" transform="translate(260.5 1461.8) scale(0.920 1)" text-anchor="end" font-size="67.0" letter-spacing="6.5">0.0</text>
<text class="t" transform="translate(298.0 1706.0) scale(0.920 1)" text-anchor="middle" font-size="64.0" letter-spacing="6.7">225</text>
<text class="t" transform="translate(515.4 1706.0) scale(0.920 1)" text-anchor="middle" font-size="64.0" letter-spacing="6.7">250</text>
<text class="t" transform="translate(732.8 1706.0) scale(0.920 1)" text-anchor="middle" font-size="64.0" letter-spacing="6.7">275</text>
<text class="t" transform="translate(950.1 1706.0) scale(0.920 1)" text-anchor="middle" font-size="64.0" letter-spacing="6.7">300</text>
<text class="t" transform="translate(1167.5 1706.0) scale(0.920 1)" text-anchor="middle" font-size="64.0" letter-spacing="6.7">325</text>
<text class="t" transform="translate(1384.9 1706.0) scale(0.920 1)" text-anchor="middle" font-size="64.0" letter-spacing="6.7">350</text>
<text class="t" transform="translate(1602.2 1706.0) scale(0.920 1)" text-anchor="middle" font-size="64.0" letter-spacing="6.7">375</text>
<text class="t" transform="translate(1819.6 1706.0) scale(0.920 1)" text-anchor="middle" font-size="64.0" letter-spacing="6.7">400</text>
<text class="t" transform="translate(2037.0 1706.0) scale(0.920 1)" text-anchor="middle" font-size="64.0" letter-spacing="6.7">425</text>
<text class="t" transform="translate(1170.0 1799.5) scale(0.940 1)" text-anchor="middle" font-size="79.5" letter-spacing="8.9">Wavelength (nm)</text>
<text class="t" transform="translate(96.3 785.0) rotate(-90)" text-anchor="middle" font-size="80.0">Absorbance (a.u.)</text>
<path d="M1005.5 226.5L1273.0 225.2" stroke="#000" stroke-width="3.5"/><path d="M1001.5 226.5L1034.5 219.1L1034.5 233.9Z" fill="#000"/>
<path d="M1293.4 509.5L1560.5 507.6" stroke="#000" stroke-width="4.0"/><path d="M1289.4 509.5L1322.4 502.1L1322.4 516.9Z" fill="#000"/>
<path d="M1040.6 705.4L1601.2 704.6" stroke="#000" stroke-width="3.5"/><path d="M1036.6 705.4L1069.6 698.0L1069.6 712.8Z" fill="#000"/>
<text class="t" transform="translate(1313.0 239.0) scale(0.930 1)" font-size="62.0" letter-spacing="6.0">118</text>
<text class="t" transform="translate(1593.0 517.0) scale(0.930 1)" font-size="62.0" letter-spacing="6.0">117</text>
<text class="t" transform="translate(1638.0 725.0) scale(0.930 1)" font-size="62.0" letter-spacing="6.0">119</text>
</svg></body></html>
